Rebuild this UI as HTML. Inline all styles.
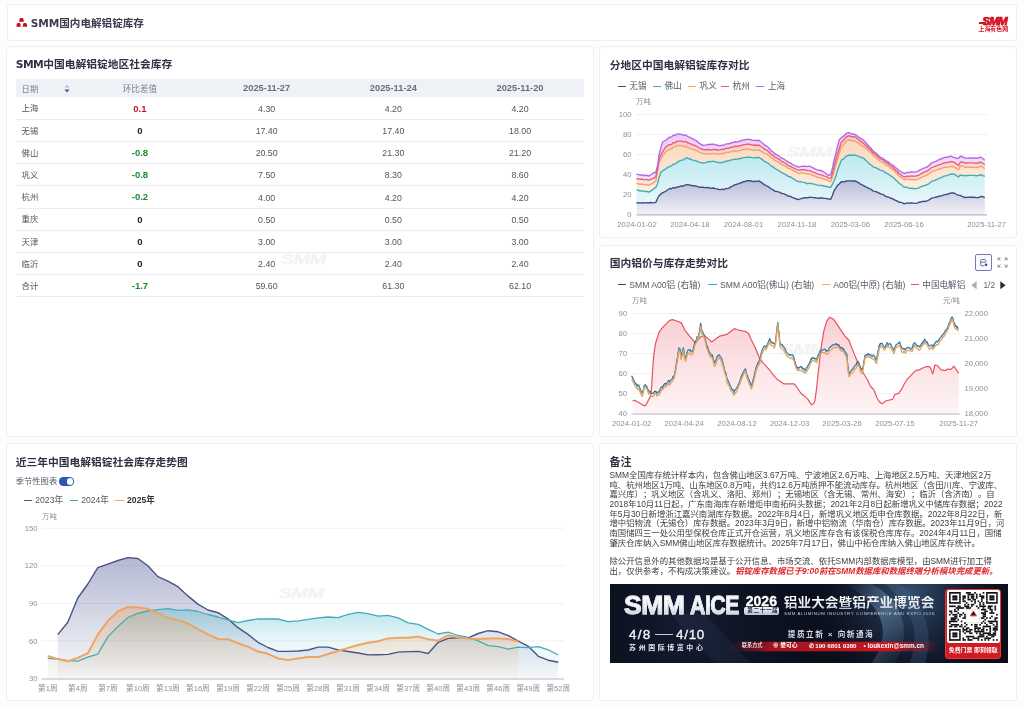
<!DOCTYPE html>
<html lang="zh-CN">
<head>
<meta charset="utf-8">
<title>SMM国内电解铝锭库存</title>
<style>
*{box-sizing:border-box;margin:0;padding:0}
html,body{width:1024px;height:708px;overflow:hidden}
body{position:relative;text-spacing-trim:space-all;background:#fdfdfd;font-family:"Liberation Sans","Noto Sans CJK SC",sans-serif;color:#333;}
#wrap{position:absolute;left:0;top:0;width:1024px;height:708px;background:#fdfdfd;filter:blur(0.35px)}
.abs{position:absolute}
.card{position:absolute;background:#fff;border:1px solid #eeeff2;border-radius:3px}
.t{position:absolute;white-space:nowrap;line-height:1}
.title{font-size:10.75px;font-weight:bold;color:#2f3242}
.ax{font-size:7.7px;color:#8b8f99}
.lg{font-size:8.6px;color:#555a66}
.wm{position:absolute;font:italic bold 14px "Liberation Sans",sans-serif;color:#000;opacity:.045;letter-spacing:-0.5px;transform:translate(-50%,-50%) scaleX(1.45);-webkit-text-stroke:0.6px #000}
.row{position:absolute;left:15.8px;width:568px;height:22.2px;border-bottom:1px solid #ebedf0}
.cell{position:absolute;top:0;height:100%;display:flex;align-items:center;justify-content:center;font-size:8.8px;color:#555;padding-bottom:1.5px}
.row .c2{padding-bottom:0}
.row .c3,.row .c4,.row .c5{padding-bottom:0;padding-top:1.1px}
.hdr .cell{padding-bottom:0;padding-top:0.4px}
.c1{left:0;width:60.8px;justify-content:flex-start;padding-left:5.8px;font-size:8.4px}
.c2{left:60.8px;width:126.7px}
.c3{left:187.5px;width:126.7px}
.c4{left:314.2px;width:126.7px}
.c5{left:440.9px;width:126.7px}
.up{color:#c8161e;font-weight:bold}
.zero{color:#222;font-weight:bold}
.dn{color:#1a8a2e;font-weight:bold}
.note{position:absolute;left:609.5px;font-size:8.4px;color:#3e3e3e;white-space:nowrap;line-height:9.7px;height:9.7px}
</style>
</head>
<body>
<div id="wrap">

<!-- Header -->
<div class="card" style="left:6.5px;top:4px;width:1010px;height:36.5px"></div>
<svg class="abs" style="left:15px;top:17px" width="14" height="11" viewBox="0 0 14 11">
  <path d="M4.1,4.7 L4.6,2.0 Q4.9,1.0 5.7,1.0 H7.3 Q8.1,1.0 8.4,2.0 L8.9,4.7 Z" fill="#c20f1f"/>
  <path d="M1.3,9.7 L1.8,6.9 Q2.1,5.9 2.9,5.9 H4.3 Q5.1,5.9 5.4,6.9 L5.9,9.7 Z" fill="#c20f1f"/>
  <path d="M7.6,9.7 L8.1,6.9 Q8.4,5.9 9.2,5.9 H10.6 Q11.4,5.9 11.7,6.9 L12.2,9.7 Z" fill="#c20f1f"/>
</svg>
<div class="t title" style="left:30.8px;top:17.5px;font-size:10.6px;font-weight:bold;color:#3a3d4f"><span style="font-family:'DejaVu Sans',sans-serif;letter-spacing:-0.1px">SMM</span>国内电解铝锭库存</div>
<div class="t" style="left:982.2px;top:13.5px;font:italic bold 11.6px 'Liberation Sans',sans-serif;color:#d4101f;-webkit-text-stroke:0.75px #d4101f;letter-spacing:-0.75px">SMM</div>
<div class="abs" style="left:978.8px;top:22.1px;width:6.5px;height:1.6px;background:#d4101f;transform:skewX(-20deg)"></div>
<div class="t" style="left:978.6px;top:26.5px;font-size:5.9px;font-weight:bold;color:#d0121f;letter-spacing:0px">上海有色网</div>

<!-- Table card -->
<div class="card" style="left:6px;top:45.5px;width:587.5px;height:391.5px"></div>
<div class="t title" style="left:15.8px;top:59px"><span style="font-family:'DejaVu Sans',sans-serif;letter-spacing:-0.6px">SMM</span>中国电解铝锭地区社会库存</div>
<div class="abs" style="left:15.8px;top:79px;width:568px;height:18px;background:#eef1f6"></div>
<div class="row hdr" style="top:79px;height:18px;border:none">
  <div class="cell c1" style="color:#7b7f8a;font-size:8.3px">日期</div>
  <svg class="abs" style="left:48px;top:5px" width="6" height="9" viewBox="0 0 6 9"><path d="M3 0.5L5.5 3.5H0.5z" fill="#b9c0cf"/><path d="M3 8.5L5.5 5.5H0.5z" fill="#3d5a92"/></svg>
  <div class="cell c2" style="color:#7b7f8a;font-size:8.6px">环比差值</div>
  <div class="cell c3" style="color:#6a6e7a;font-weight:bold;font-size:9.3px">2025-11-27</div>
  <div class="cell c4" style="color:#6a6e7a;font-weight:bold;font-size:9.3px">2025-11-24</div>
  <div class="cell c5" style="color:#6a6e7a;font-weight:bold;font-size:9.3px">2025-11-20</div>
</div>
<div class="row" style="top:97.6px"><div class="cell c1" style="color:#555;font-size:8.4px">上海</div><div class="cell c2 up" style="font-size:9.5px">0.1</div><div class="cell c3">4.30</div><div class="cell c4">4.20</div><div class="cell c5">4.20</div></div>
<div class="row" style="top:119.8px"><div class="cell c1" style="color:#555;font-size:8.4px">无锡</div><div class="cell c2 zero" style="font-size:9.5px">0</div><div class="cell c3">17.40</div><div class="cell c4">17.40</div><div class="cell c5">18.00</div></div>
<div class="row" style="top:142.0px"><div class="cell c1" style="color:#555;font-size:8.4px">佛山</div><div class="cell c2 dn" style="font-size:9.5px">-0.8</div><div class="cell c3">20.50</div><div class="cell c4">21.30</div><div class="cell c5">21.20</div></div>
<div class="row" style="top:164.2px"><div class="cell c1" style="color:#555;font-size:8.4px">巩义</div><div class="cell c2 dn" style="font-size:9.5px">-0.8</div><div class="cell c3">7.50</div><div class="cell c4">8.30</div><div class="cell c5">8.60</div></div>
<div class="row" style="top:186.4px"><div class="cell c1" style="color:#555;font-size:8.4px">杭州</div><div class="cell c2 dn" style="font-size:9.5px">-0.2</div><div class="cell c3">4.00</div><div class="cell c4">4.20</div><div class="cell c5">4.20</div></div>
<div class="row" style="top:208.6px"><div class="cell c1" style="color:#555;font-size:8.4px">重庆</div><div class="cell c2 zero" style="font-size:9.5px">0</div><div class="cell c3">0.50</div><div class="cell c4">0.50</div><div class="cell c5">0.50</div></div>
<div class="row" style="top:230.8px"><div class="cell c1" style="color:#555;font-size:8.4px">天津</div><div class="cell c2 zero" style="font-size:9.5px">0</div><div class="cell c3">3.00</div><div class="cell c4">3.00</div><div class="cell c5">3.00</div></div>
<div class="row" style="top:253.0px"><div class="cell c1" style="color:#555;font-size:8.4px">临沂</div><div class="cell c2 zero" style="font-size:9.5px">0</div><div class="cell c3">2.40</div><div class="cell c4">2.40</div><div class="cell c5">2.40</div></div>
<div class="row" style="top:275.2px"><div class="cell c1" style="color:#555;font-size:8.4px">合计</div><div class="cell c2 dn" style="font-size:9.5px">-1.7</div><div class="cell c3">59.60</div><div class="cell c4">61.30</div><div class="cell c5">62.10</div></div>
<div class="wm" style="left:302.5px;top:259.2px">SMM</div>

<!-- Chart1 card -->
<div class="card" style="left:599px;top:45.5px;width:418px;height:192px"></div>
<div class="t title" style="left:609.8px;top:59.5px">分地区中国电解铝锭库存对比</div>
<div class="abs" style="left:617.6px;top:85.5px;width:8.2px;height:1.3px;background:#3d4a82"></div>
<div class="t lg" style="left:629.3px;top:81.8px">无锡</div>
<div class="abs" style="left:652.7px;top:85.5px;width:8.2px;height:1.3px;background:#3fb0b8"></div>
<div class="t lg" style="left:664.4px;top:81.8px">佛山</div>
<div class="abs" style="left:687.9px;top:85.5px;width:8.2px;height:1.3px;background:#f2a35e"></div>
<div class="t lg" style="left:699.6px;top:81.8px">巩义</div>
<div class="abs" style="left:721px;top:85.5px;width:8.2px;height:1.3px;background:#eb5b6e"></div>
<div class="t lg" style="left:732.7px;top:81.8px">杭州</div>
<div class="abs" style="left:756.3px;top:85.5px;width:8.2px;height:1.3px;background:#a864f0"></div>
<div class="t lg" style="left:768.0px;top:81.8px">上海</div>
<div class="t ax" style="left:636px;top:98.3px;font-size:7.4px">万吨</div>
<div class="t ax" style="left:631.5px;top:210.9px;transform:translateX(-100%);">0</div>
<div class="t ax" style="left:631.5px;top:190.9px;transform:translateX(-100%);">20</div>
<div class="t ax" style="left:631.5px;top:170.9px;transform:translateX(-100%);">40</div>
<div class="t ax" style="left:631.5px;top:150.9px;transform:translateX(-100%);">60</div>
<div class="t ax" style="left:631.5px;top:130.9px;transform:translateX(-100%);">80</div>
<div class="t ax" style="left:631.5px;top:110.9px;transform:translateX(-100%);">100</div>
<div class="t ax" style="left:637.0px;top:220.8px;transform:translateX(-50%);">2024-01-02</div>
<div class="t ax" style="left:689.8px;top:220.8px;transform:translateX(-50%);">2024-04-18</div>
<div class="t ax" style="left:743.5px;top:220.8px;transform:translateX(-50%);">2024-08-01</div>
<div class="t ax" style="left:797.0px;top:220.8px;transform:translateX(-50%);">2024-11-18</div>
<div class="t ax" style="left:850.3px;top:220.8px;transform:translateX(-50%);">2025-03-06</div>
<div class="t ax" style="left:904.0px;top:220.8px;transform:translateX(-50%);">2025-06-16</div>
<div class="t ax" style="left:986.7px;top:220.8px;transform:translateX(-50%);">2025-11-27</div>
<div class="wm" style="left:809px;top:152px">SMM</div>
<svg class="abs" style="left:0;top:0" width="1024" height="708" viewBox="0 0 1024 708">
<defs>
<linearGradient id="g1navy" x1="0" y1="0" x2="0" y2="1"><stop offset="0" stop-color="#b9bdd9"/><stop offset="1" stop-color="#f1f2f7"/></linearGradient>
<linearGradient id="g1teal" x1="0" y1="0" x2="0" y2="1"><stop offset="0" stop-color="#bde9f0"/><stop offset="1" stop-color="#e8f7fa"/></linearGradient>
<linearGradient id="g1orange" x1="0" y1="0" x2="0" y2="1"><stop offset="0" stop-color="#fbd8bc"/><stop offset="1" stop-color="#fdeee2"/></linearGradient>
<linearGradient id="g1red" x1="0" y1="0" x2="0" y2="1"><stop offset="0" stop-color="#f8cdd4"/><stop offset="1" stop-color="#fbe3e6"/></linearGradient>
<linearGradient id="g1purple" x1="0" y1="0" x2="0" y2="1"><stop offset="0" stop-color="#f0cbf6"/><stop offset="1" stop-color="#f7e3fa"/></linearGradient>
</defs>
<line x1="636.5" y1="194.5" x2="987" y2="194.5" stroke="#f0f1f4" stroke-width="1"/>
<line x1="636.5" y1="174.5" x2="987" y2="174.5" stroke="#f0f1f4" stroke-width="1"/>
<line x1="636.5" y1="154.5" x2="987" y2="154.5" stroke="#f0f1f4" stroke-width="1"/>
<line x1="636.5" y1="134.5" x2="987" y2="134.5" stroke="#f0f1f4" stroke-width="1"/>
<line x1="636.5" y1="114.5" x2="987" y2="114.5" stroke="#f0f1f4" stroke-width="1"/>
<path d="M636.5,202.8 L638.2,202.7 L640,203.2 L641.8,202.6 L643.5,203 L645.2,202.9 L647,202.6 L648.8,203 L650.5,202.5 L652.2,202.9 L654,202.6 L655.8,202.6 L657.5,198.5 L659.2,195.7 L661,193.8 L662.8,192.7 L664.5,191.9 L666.2,191 L668,189.5 L669.8,188.5 L671.5,188.8 L673.2,187.5 L675,188.1 L676.8,187.2 L678.5,186.8 L680.2,186.3 L682,186 L683.8,186 L685.5,184.9 L687.2,184.8 L689,185 L690.8,185.2 L692.5,185.8 L694.2,185.7 L696,186.1 L697.8,186.7 L699.5,187.4 L701.2,187.2 L703,187.2 L704.8,187.6 L706.5,187.6 L708.2,187.5 L710,188.1 L711.8,188.2 L713.5,188 L715.2,188.6 L717,188.9 L718.8,189.5 L720.5,189.6 L722.2,189.1 L724,189.6 L725.8,188.5 L727.5,188.6 L729.2,188.1 L731,186.6 L732.8,186.1 L734.5,184.8 L736.2,184.5 L738,183.9 L739.8,183.1 L741.5,182.8 L743.2,181.7 L745,181.5 L746.8,180.8 L748.5,180.8 L750.2,180.8 L752,181.2 L753.8,181.5 L755.5,181.1 L757.2,181.4 L759,180.9 L760.8,182.1 L762.5,183.2 L764.2,184.6 L766,185.6 L767.8,186.3 L769.5,187.6 L771.2,189.1 L773,189.6 L774.8,191.2 L776.5,191.4 L778.2,191.9 L780,192.4 L781.8,193.6 L783.5,193.6 L785.2,194.4 L787,195.3 L788.8,196.4 L790.5,196.3 L792.2,197.3 L794,197.9 L795.8,198.8 L797.5,199.2 L799.2,199.5 L801,198.5 L802.8,198.2 L804.5,197.7 L806.2,197.8 L808,197.9 L809.8,197.2 L811.5,197.4 L813.2,197.6 L815,197.7 L816.8,198.1 L818.5,198.3 L820.2,198 L822,197.8 L823.8,198.4 L825.5,198.4 L827.2,198.7 L829,199.2 L830.8,199.1 L832.5,195.2 L834.2,190.3 L836,187.8 L837.8,185 L839.5,183.7 L841.2,181.7 L843,181.7 L844.8,181.5 L846.5,181 L848.2,180.9 L850,180.7 L851.8,181.3 L853.5,180.9 L855.2,181 L857,181.9 L858.8,182.9 L860.5,184.1 L862.2,184.9 L864,185.8 L865.8,186.8 L867.5,187.6 L869.2,188.7 L871,189.2 L872.8,190.8 L874.5,191.4 L876.2,191.7 L878,192.6 L879.8,193.5 L881.5,194.1 L883.2,194.5 L885,195.9 L886.8,196.8 L888.5,197.1 L890.2,198 L892,198.5 L893.8,199.4 L895.5,200.4 L897.2,201 L899,202.2 L900.8,202.3 L902.5,202.8 L904.2,203.8 L906,203.3 L907.8,202.9 L909.5,203.3 L911.2,202.8 L913,203.1 L914.8,203.4 L916.5,203.1 L918.2,202.7 L920,202 L921.8,201.8 L923.5,201.2 L925.2,201.5 L927,200.9 L928.8,200.2 L930.5,198.9 L932.2,197.9 L934,197.6 L935.8,197.1 L937.5,196.7 L939.2,196.3 L941,195.9 L942.8,195.5 L944.5,194.6 L946.2,194.5 L948,194 L949.8,193.3 L951.5,192.9 L953.2,193 L955,193.5 L956.8,194.5 L958.5,195.4 L960.2,195.4 L962,196.4 L963.8,197 L965.5,197.5 L967.2,197.4 L969,197.3 L970.8,197.3 L972.5,197.3 L974.2,197.3 L976,197.6 L977.8,197.6 L979.5,197.2 L981.2,196.4 L983,196.8 L984.8,197.7 L984.8,214.5 L636.5,214.5Z" fill="url(#g1navy)"/>
<path d="M636.5,190.1 L638.2,190.2 L640,191 L641.8,190.7 L643.5,191.4 L645.2,191.5 L647,191.5 L648.8,192.2 L650.5,191.1 L652.2,190.2 L654,188.6 L655.8,187.4 L657.5,184 L659.2,176.9 L661,172.1 L662.8,170.7 L664.5,169.6 L666.2,168.6 L668,167.3 L669.8,166.3 L671.5,166 L673.2,164.2 L675,164.1 L676.8,162.7 L678.5,161.6 L680.2,160.7 L682,160.1 L683.8,159.7 L685.5,158.2 L687.2,158 L689,158.8 L690.8,159.2 L692.5,160.1 L694.2,160.4 L696,160.9 L697.8,161.5 L699.5,162.4 L701.2,162.6 L703,163 L704.8,162.9 L706.5,162.3 L708.2,161.7 L710,161.7 L711.8,161.4 L713.5,161.2 L715.2,161.8 L717,162.1 L718.8,162.7 L720.5,162.8 L722.2,162.2 L724,162.4 L725.8,161.1 L727.5,161 L729.2,160.9 L731,159.9 L732.8,159.9 L734.5,159.1 L736.2,159.3 L738,159.1 L739.8,158.5 L741.5,158.5 L743.2,157.6 L745,157.6 L746.8,157.1 L748.5,157.2 L750.2,157.2 L752,157.7 L753.8,157.9 L755.5,157.5 L757.2,157.8 L759,157.3 L760.8,158.7 L762.5,159.7 L764.2,161.2 L766,162.1 L767.8,162.9 L769.5,164.4 L771.2,166.1 L773,166.8 L774.8,168.6 L776.5,169.3 L778.2,170.3 L780,171.3 L781.8,173 L783.5,173.3 L785.2,174.3 L787,175.4 L788.8,176.7 L790.5,176.8 L792.2,178.1 L794,179.1 L795.8,180.3 L797.5,181.1 L799.2,181.9 L801,181.6 L802.8,182.1 L804.5,182.4 L806.2,183.3 L808,183.7 L809.8,183.2 L811.5,183.6 L813.2,184 L815,184.3 L816.8,184.9 L818.5,185.4 L820.2,185.4 L822,185.5 L823.8,186.2 L825.5,186.3 L827.2,186.7 L829,187.3 L830.8,187.2 L832.5,184.2 L834.2,180.5 L836,175.5 L837.8,169.6 L839.5,165.2 L841.2,160.4 L843,159.2 L844.8,157.8 L846.5,156 L848.2,155.3 L850,155 L851.8,155.5 L853.5,155 L855.2,155 L857,155.7 L858.8,156.3 L860.5,157.2 L862.2,157.6 L864,158.4 L865.8,160.3 L867.5,161.9 L869.2,163.9 L871,164.9 L872.8,166.6 L874.5,167.3 L876.2,167.8 L878,168.8 L879.8,169.9 L881.5,170.5 L883.2,170.9 L885,172.3 L886.8,173.3 L888.5,174.2 L890.2,175.6 L892,176.6 L893.8,178 L895.5,179.7 L897.2,181.2 L899,183.4 L900.8,184.3 L902.5,185.7 L904.2,187.2 L906,187.3 L907.8,187.5 L909.5,188.4 L911.2,188.2 L913,188.5 L914.8,188.8 L916.5,188.5 L918.2,188.1 L920,187.1 L921.8,186.5 L923.5,185.6 L925.2,185.5 L927,184.6 L928.8,183.8 L930.5,182.3 L932.2,181.2 L934,180.7 L935.8,180 L937.5,179.1 L939.2,178.4 L941,177.7 L942.8,176.9 L944.5,175.9 L946.2,175.7 L948,175.2 L949.8,174.4 L951.5,174 L953.2,174 L955,174.7 L956.8,175.9 L958.5,176.9 L960.2,175.1 L962,175.2 L963.8,175.6 L965.5,175.8 L967.2,175.5 L969,175.4 L970.8,175.4 L972.5,175.4 L974.2,175.4 L976,175.7 L977.8,175.6 L979.5,175.2 L981.2,174.8 L983,175.6 L984.8,176.3 L984.8,197.7 L983,196.8 L981.2,196.4 L979.5,197.2 L977.8,197.6 L976,197.6 L974.2,197.3 L972.5,197.3 L970.8,197.3 L969,197.3 L967.2,197.4 L965.5,197.5 L963.8,197 L962,196.4 L960.2,195.4 L958.5,195.4 L956.8,194.5 L955,193.5 L953.2,193 L951.5,192.9 L949.8,193.3 L948,194 L946.2,194.5 L944.5,194.6 L942.8,195.5 L941,195.9 L939.2,196.3 L937.5,196.7 L935.8,197.1 L934,197.6 L932.2,197.9 L930.5,198.9 L928.8,200.2 L927,200.9 L925.2,201.5 L923.5,201.2 L921.8,201.8 L920,202 L918.2,202.7 L916.5,203.1 L914.8,203.4 L913,203.1 L911.2,202.8 L909.5,203.3 L907.8,202.9 L906,203.3 L904.2,203.8 L902.5,202.8 L900.8,202.3 L899,202.2 L897.2,201 L895.5,200.4 L893.8,199.4 L892,198.5 L890.2,198 L888.5,197.1 L886.8,196.8 L885,195.9 L883.2,194.5 L881.5,194.1 L879.8,193.5 L878,192.6 L876.2,191.7 L874.5,191.4 L872.8,190.8 L871,189.2 L869.2,188.7 L867.5,187.6 L865.8,186.8 L864,185.8 L862.2,184.9 L860.5,184.1 L858.8,182.9 L857,181.9 L855.2,181 L853.5,180.9 L851.8,181.3 L850,180.7 L848.2,180.9 L846.5,181 L844.8,181.5 L843,181.7 L841.2,181.7 L839.5,183.7 L837.8,185 L836,187.8 L834.2,190.3 L832.5,195.2 L830.8,199.1 L829,199.2 L827.2,198.7 L825.5,198.4 L823.8,198.4 L822,197.8 L820.2,198 L818.5,198.3 L816.8,198.1 L815,197.7 L813.2,197.6 L811.5,197.4 L809.8,197.2 L808,197.9 L806.2,197.8 L804.5,197.7 L802.8,198.2 L801,198.5 L799.2,199.5 L797.5,199.2 L795.8,198.8 L794,197.9 L792.2,197.3 L790.5,196.3 L788.8,196.4 L787,195.3 L785.2,194.4 L783.5,193.6 L781.8,193.6 L780,192.4 L778.2,191.9 L776.5,191.4 L774.8,191.2 L773,189.6 L771.2,189.1 L769.5,187.6 L767.8,186.3 L766,185.6 L764.2,184.6 L762.5,183.2 L760.8,182.1 L759,180.9 L757.2,181.4 L755.5,181.1 L753.8,181.5 L752,181.2 L750.2,180.8 L748.5,180.8 L746.8,180.8 L745,181.5 L743.2,181.7 L741.5,182.8 L739.8,183.1 L738,183.9 L736.2,184.5 L734.5,184.8 L732.8,186.1 L731,186.6 L729.2,188.1 L727.5,188.6 L725.8,188.5 L724,189.6 L722.2,189.1 L720.5,189.6 L718.8,189.5 L717,188.9 L715.2,188.6 L713.5,188 L711.8,188.2 L710,188.1 L708.2,187.5 L706.5,187.6 L704.8,187.6 L703,187.2 L701.2,187.2 L699.5,187.4 L697.8,186.7 L696,186.1 L694.2,185.7 L692.5,185.8 L690.8,185.2 L689,185 L687.2,184.8 L685.5,184.9 L683.8,186 L682,186 L680.2,186.3 L678.5,186.8 L676.8,187.2 L675,188.1 L673.2,187.5 L671.5,188.8 L669.8,188.5 L668,189.5 L666.2,191 L664.5,191.9 L662.8,192.7 L661,193.8 L659.2,195.7 L657.5,198.5 L655.8,202.6 L654,202.6 L652.2,202.9 L650.5,202.5 L648.8,203 L647,202.6 L645.2,202.9 L643.5,203 L641.8,202.6 L640,203.2 L638.2,202.7 L636.5,202.8Z" fill="url(#g1teal)"/>
<path d="M636.5,183.6 L638.2,183.7 L640,184.4 L641.8,184 L643.5,184.7 L645.2,184.7 L647,184.7 L648.8,185.3 L650.5,184.3 L652.2,183.6 L654,182.2 L655.8,181.1 L657.5,172.2 L659.2,162.1 L661,158.6 L662.8,155.8 L664.5,153.4 L666.2,151.5 L668,150.2 L669.8,149.2 L671.5,148.9 L673.2,147.1 L675,147 L676.8,145.6 L678.5,145.4 L680.2,145.5 L682,145.9 L683.8,146.6 L685.5,146.2 L687.2,147.3 L689,148.1 L690.8,148.5 L692.5,149.4 L694.2,149.7 L696,150.4 L697.8,151.2 L699.5,152.4 L701.2,152.9 L703,153.5 L704.8,153.8 L706.5,153.7 L708.2,153.5 L710,154 L711.8,153.9 L713.5,153.4 L715.2,153.8 L717,153.7 L718.8,154.1 L720.5,153.9 L722.2,153.3 L724,153.6 L725.8,152.4 L727.5,152.4 L729.2,152.4 L731,151.5 L732.8,151.5 L734.5,150.7 L736.2,151.1 L738,150.8 L739.8,150.3 L741.5,150.3 L743.2,149.4 L745,149.5 L746.8,149 L748.5,149.2 L750.2,149.3 L752,149.9 L753.8,150.2 L755.5,149.9 L757.2,150.4 L759,150 L760.8,151.2 L762.5,152 L764.2,153.2 L766,153.9 L767.8,154.7 L769.5,156.2 L771.2,157.9 L773,158.7 L774.8,160.5 L776.5,161.2 L778.2,162.2 L780,163.2 L781.8,164.9 L783.5,165.2 L785.2,166.2 L787,167.3 L788.8,168.6 L790.5,168.7 L792.2,170 L794,170.9 L795.8,172.1 L797.5,172.9 L799.2,173.6 L801,173 L802.8,173.1 L804.5,173.1 L806.2,173.6 L808,174.1 L809.8,174 L811.5,174.8 L813.2,175.5 L815,176.2 L816.8,177 L818.5,177.6 L820.2,177.8 L822,178.1 L823.8,179 L825.5,179.5 L827.2,180.2 L829,181.2 L830.8,181.5 L832.5,176.9 L834.2,171 L836,164.9 L837.8,158.2 L839.5,152.9 L841.2,147.2 L843,145.3 L844.8,143.3 L846.5,140.9 L848.2,140 L850,140 L851.8,140.9 L853.5,140.7 L855.2,141.1 L857,142.3 L858.8,143.4 L860.5,144.8 L862.2,145.8 L864,146.9 L865.8,148.4 L867.5,149.8 L869.2,151.4 L871,152.6 L872.8,155 L874.5,156.4 L876.2,157.5 L878,159.3 L879.8,161 L881.5,161.9 L883.2,162.5 L885,164.1 L886.8,165.3 L888.5,166.3 L890.2,167.9 L892,169 L893.8,170.6 L895.5,172.4 L897.2,173.9 L899,176.1 L900.8,177 L902.5,178.4 L904.2,179.5 L906,179.3 L907.8,179.1 L909.5,179.6 L911.2,179.2 L913,179.5 L914.8,179.8 L916.5,179.5 L918.2,179.1 L920,178 L921.8,177.3 L923.5,176.2 L925.2,176 L927,174.9 L928.8,174.1 L930.5,172.6 L932.2,171.4 L934,170.9 L935.8,170.3 L937.5,169.6 L939.2,169 L941,168.5 L942.8,167.9 L944.5,167.2 L946.2,167.4 L948,167.1 L949.8,166.6 L951.5,166.4 L953.2,166.7 L955,167.4 L956.8,168.6 L958.5,169.6 L960.2,166.3 L962,165.9 L963.8,166.6 L965.5,167.3 L967.2,167.4 L969,167.3 L970.8,167.3 L972.5,167.3 L974.2,167.3 L976,167.6 L977.8,167.3 L979.5,166.6 L981.2,166.3 L983,167.5 L984.8,168.7 L984.8,176.3 L983,175.6 L981.2,174.8 L979.5,175.2 L977.8,175.6 L976,175.7 L974.2,175.4 L972.5,175.4 L970.8,175.4 L969,175.4 L967.2,175.5 L965.5,175.8 L963.8,175.6 L962,175.2 L960.2,175.1 L958.5,176.9 L956.8,175.9 L955,174.7 L953.2,174 L951.5,174 L949.8,174.4 L948,175.2 L946.2,175.7 L944.5,175.9 L942.8,176.9 L941,177.7 L939.2,178.4 L937.5,179.1 L935.8,180 L934,180.7 L932.2,181.2 L930.5,182.3 L928.8,183.8 L927,184.6 L925.2,185.5 L923.5,185.6 L921.8,186.5 L920,187.1 L918.2,188.1 L916.5,188.5 L914.8,188.8 L913,188.5 L911.2,188.2 L909.5,188.4 L907.8,187.5 L906,187.3 L904.2,187.2 L902.5,185.7 L900.8,184.3 L899,183.4 L897.2,181.2 L895.5,179.7 L893.8,178 L892,176.6 L890.2,175.6 L888.5,174.2 L886.8,173.3 L885,172.3 L883.2,170.9 L881.5,170.5 L879.8,169.9 L878,168.8 L876.2,167.8 L874.5,167.3 L872.8,166.6 L871,164.9 L869.2,163.9 L867.5,161.9 L865.8,160.3 L864,158.4 L862.2,157.6 L860.5,157.2 L858.8,156.3 L857,155.7 L855.2,155 L853.5,155 L851.8,155.5 L850,155 L848.2,155.3 L846.5,156 L844.8,157.8 L843,159.2 L841.2,160.4 L839.5,165.2 L837.8,169.6 L836,175.5 L834.2,180.5 L832.5,184.2 L830.8,187.2 L829,187.3 L827.2,186.7 L825.5,186.3 L823.8,186.2 L822,185.5 L820.2,185.4 L818.5,185.4 L816.8,184.9 L815,184.3 L813.2,184 L811.5,183.6 L809.8,183.2 L808,183.7 L806.2,183.3 L804.5,182.4 L802.8,182.1 L801,181.6 L799.2,181.9 L797.5,181.1 L795.8,180.3 L794,179.1 L792.2,178.1 L790.5,176.8 L788.8,176.7 L787,175.4 L785.2,174.3 L783.5,173.3 L781.8,173 L780,171.3 L778.2,170.3 L776.5,169.3 L774.8,168.6 L773,166.8 L771.2,166.1 L769.5,164.4 L767.8,162.9 L766,162.1 L764.2,161.2 L762.5,159.7 L760.8,158.7 L759,157.3 L757.2,157.8 L755.5,157.5 L753.8,157.9 L752,157.7 L750.2,157.2 L748.5,157.2 L746.8,157.1 L745,157.6 L743.2,157.6 L741.5,158.5 L739.8,158.5 L738,159.1 L736.2,159.3 L734.5,159.1 L732.8,159.9 L731,159.9 L729.2,160.9 L727.5,161 L725.8,161.1 L724,162.4 L722.2,162.2 L720.5,162.8 L718.8,162.7 L717,162.1 L715.2,161.8 L713.5,161.2 L711.8,161.4 L710,161.7 L708.2,161.7 L706.5,162.3 L704.8,162.9 L703,163 L701.2,162.6 L699.5,162.4 L697.8,161.5 L696,160.9 L694.2,160.4 L692.5,160.1 L690.8,159.2 L689,158.8 L687.2,158 L685.5,158.2 L683.8,159.7 L682,160.1 L680.2,160.7 L678.5,161.6 L676.8,162.7 L675,164.1 L673.2,164.2 L671.5,166 L669.8,166.3 L668,167.3 L666.2,168.6 L664.5,169.6 L662.8,170.7 L661,172.1 L659.2,176.9 L657.5,184 L655.8,187.4 L654,188.6 L652.2,190.2 L650.5,191.1 L648.8,192.2 L647,191.5 L645.2,191.5 L643.5,191.4 L641.8,190.7 L640,191 L638.2,190.2 L636.5,190.1Z" fill="url(#g1orange)"/>
<path d="M636.5,178.7 L638.2,178.7 L640,179.4 L641.8,179 L643.5,179.6 L645.2,179.6 L647,179.5 L648.8,180.1 L650.5,179.3 L652.2,178.9 L654,177.8 L655.8,177 L657.5,168.5 L659.2,158.8 L661,154.8 L662.8,151.7 L664.5,148.8 L666.2,146.6 L668,145.5 L669.8,144.6 L671.5,144.4 L673.2,142.7 L675,142.8 L676.8,141.4 L678.5,141.1 L680.2,141.1 L682,141.3 L683.8,141.8 L685.5,141.3 L687.2,142.5 L689,143.4 L690.8,143.9 L692.5,144.9 L694.2,145.2 L696,146 L697.8,147 L699.5,148.2 L701.2,148.8 L703,149.5 L704.8,149.8 L706.5,149.7 L708.2,149.5 L710,150 L711.8,149.9 L713.5,149.4 L715.2,149.8 L717,149.7 L718.8,150.1 L720.5,149.9 L722.2,149.2 L724,149.5 L725.8,148.3 L727.5,148.2 L729.2,148.1 L731,147.2 L732.8,147.1 L734.5,146.3 L736.2,146.5 L738,146.2 L739.8,145.7 L741.5,145.6 L743.2,144.6 L745,144.6 L746.8,144.1 L748.5,144.3 L750.2,144.4 L752,145 L753.8,145.3 L755.5,145 L757.2,145.5 L759,145.1 L760.8,146.5 L762.5,147.5 L764.2,149 L766,149.9 L767.8,150.9 L769.5,152.5 L771.2,154.4 L773,155.3 L774.8,157.2 L776.5,157.9 L778.2,158.9 L780,159.9 L781.8,161.7 L783.5,162.1 L785.2,163.3 L787,164.5 L788.8,166.1 L790.5,166.3 L792.2,167.4 L794,168.2 L795.8,169.2 L797.5,169.8 L799.2,170.3 L801,169.7 L802.8,169.8 L804.5,169.6 L806.2,170.1 L808,170.6 L809.8,170.6 L811.5,171.4 L813.2,172.2 L815,172.9 L816.8,173.7 L818.5,174.4 L820.2,174.6 L822,174.9 L823.8,175.8 L825.5,176.4 L827.2,177.1 L829,178.1 L830.8,178.4 L832.5,173.2 L834.2,166.2 L836,160 L837.8,153.3 L839.5,148 L841.2,142.4 L843,140.8 L844.8,138.9 L846.5,136.8 L848.2,135.9 L850,136 L851.8,136.9 L853.5,136.6 L855.2,137 L857,138.3 L858.8,139.7 L860.5,141.3 L862.2,142.4 L864,143.8 L865.8,145.5 L867.5,147 L869.2,148.9 L871,150.1 L872.8,152.6 L874.5,153.9 L876.2,155.1 L878,156.8 L879.8,158.5 L881.5,159.4 L883.2,160 L885,161.6 L886.8,162.9 L888.5,163.9 L890.2,165.5 L892,166.6 L893.8,168.2 L895.5,170 L897.2,171.5 L899,173.7 L900.8,174.6 L902.5,176 L904.2,177 L906,176.5 L907.8,176.1 L909.5,176.5 L911.2,175.9 L913,176.1 L914.8,176.3 L916.5,175.9 L918.2,175.5 L920,174.3 L921.8,173.4 L923.5,172.3 L925.2,172 L927,170.8 L928.8,170 L930.5,168.5 L932.2,167.3 L934,166.8 L935.8,166.1 L937.5,165.4 L939.2,164.8 L941,164.2 L942.8,163.6 L944.5,162.7 L946.2,162.8 L948,162.4 L949.8,161.8 L951.5,161.6 L953.2,161.9 L955,162.8 L956.8,164.3 L958.5,165.5 L960.2,162.3 L962,161.9 L963.8,162.5 L965.5,163 L967.2,163 L969,162.9 L970.8,162.9 L972.5,162.9 L974.2,162.9 L976,163.2 L977.8,163 L979.5,162.5 L981.2,162.3 L983,163.5 L984.8,164.6 L984.8,168.7 L983,167.5 L981.2,166.3 L979.5,166.6 L977.8,167.3 L976,167.6 L974.2,167.3 L972.5,167.3 L970.8,167.3 L969,167.3 L967.2,167.4 L965.5,167.3 L963.8,166.6 L962,165.9 L960.2,166.3 L958.5,169.6 L956.8,168.6 L955,167.4 L953.2,166.7 L951.5,166.4 L949.8,166.6 L948,167.1 L946.2,167.4 L944.5,167.2 L942.8,167.9 L941,168.5 L939.2,169 L937.5,169.6 L935.8,170.3 L934,170.9 L932.2,171.4 L930.5,172.6 L928.8,174.1 L927,174.9 L925.2,176 L923.5,176.2 L921.8,177.3 L920,178 L918.2,179.1 L916.5,179.5 L914.8,179.8 L913,179.5 L911.2,179.2 L909.5,179.6 L907.8,179.1 L906,179.3 L904.2,179.5 L902.5,178.4 L900.8,177 L899,176.1 L897.2,173.9 L895.5,172.4 L893.8,170.6 L892,169 L890.2,167.9 L888.5,166.3 L886.8,165.3 L885,164.1 L883.2,162.5 L881.5,161.9 L879.8,161 L878,159.3 L876.2,157.5 L874.5,156.4 L872.8,155 L871,152.6 L869.2,151.4 L867.5,149.8 L865.8,148.4 L864,146.9 L862.2,145.8 L860.5,144.8 L858.8,143.4 L857,142.3 L855.2,141.1 L853.5,140.7 L851.8,140.9 L850,140 L848.2,140 L846.5,140.9 L844.8,143.3 L843,145.3 L841.2,147.2 L839.5,152.9 L837.8,158.2 L836,164.9 L834.2,171 L832.5,176.9 L830.8,181.5 L829,181.2 L827.2,180.2 L825.5,179.5 L823.8,179 L822,178.1 L820.2,177.8 L818.5,177.6 L816.8,177 L815,176.2 L813.2,175.5 L811.5,174.8 L809.8,174 L808,174.1 L806.2,173.6 L804.5,173.1 L802.8,173.1 L801,173 L799.2,173.6 L797.5,172.9 L795.8,172.1 L794,170.9 L792.2,170 L790.5,168.7 L788.8,168.6 L787,167.3 L785.2,166.2 L783.5,165.2 L781.8,164.9 L780,163.2 L778.2,162.2 L776.5,161.2 L774.8,160.5 L773,158.7 L771.2,157.9 L769.5,156.2 L767.8,154.7 L766,153.9 L764.2,153.2 L762.5,152 L760.8,151.2 L759,150 L757.2,150.4 L755.5,149.9 L753.8,150.2 L752,149.9 L750.2,149.3 L748.5,149.2 L746.8,149 L745,149.5 L743.2,149.4 L741.5,150.3 L739.8,150.3 L738,150.8 L736.2,151.1 L734.5,150.7 L732.8,151.5 L731,151.5 L729.2,152.4 L727.5,152.4 L725.8,152.4 L724,153.6 L722.2,153.3 L720.5,153.9 L718.8,154.1 L717,153.7 L715.2,153.8 L713.5,153.4 L711.8,153.9 L710,154 L708.2,153.5 L706.5,153.7 L704.8,153.8 L703,153.5 L701.2,152.9 L699.5,152.4 L697.8,151.2 L696,150.4 L694.2,149.7 L692.5,149.4 L690.8,148.5 L689,148.1 L687.2,147.3 L685.5,146.2 L683.8,146.6 L682,145.9 L680.2,145.5 L678.5,145.4 L676.8,145.6 L675,147 L673.2,147.1 L671.5,148.9 L669.8,149.2 L668,150.2 L666.2,151.5 L664.5,153.4 L662.8,155.8 L661,158.6 L659.2,162.1 L657.5,172.2 L655.8,181.1 L654,182.2 L652.2,183.6 L650.5,184.3 L648.8,185.3 L647,184.7 L645.2,184.7 L643.5,184.7 L641.8,184 L640,184.4 L638.2,183.7 L636.5,183.6Z" fill="url(#g1red)"/>
<path d="M636.5,174.3 L638.2,174.4 L640,175.1 L641.8,174.8 L643.5,175.5 L645.2,175.5 L647,175.4 L648.8,176.1 L650.5,175 L652.2,174.1 L654,172.4 L655.8,172.5 L657.5,166 L659.2,154.3 L661,147.4 L662.8,141.9 L664.5,141 L666.2,140 L668,138.3 L669.8,137.1 L671.5,137 L673.2,135.3 L675,135.4 L676.8,134.1 L678.5,134 L680.2,134.2 L682,134.6 L683.8,135.3 L685.5,134.9 L687.2,136.2 L689,137.1 L690.8,137.7 L692.5,138.9 L694.2,139.5 L696,140.6 L697.8,141.9 L699.5,143.5 L701.2,144.3 L703,145.4 L704.8,145.4 L706.5,144.9 L708.2,144.4 L710,144.5 L711.8,144.3 L713.5,144.1 L715.2,144.7 L717,145 L718.8,145.6 L720.5,145.7 L722.2,145.1 L724,145.3 L725.8,144 L727.5,143.9 L729.2,143.8 L731,142.8 L732.8,142.7 L734.5,141.8 L736.2,142 L738,141.6 L739.8,141 L741.5,140.9 L743.2,139.9 L745,139.8 L746.8,139.3 L748.5,139.4 L750.2,139.5 L752,140.1 L753.8,140.4 L755.5,140.2 L757.2,140.6 L759,140.3 L760.8,141.8 L762.5,143 L764.2,144.7 L766,145.8 L767.8,146.9 L769.5,148.8 L771.2,150.8 L773,151.9 L774.8,154 L776.5,154.7 L778.2,155.7 L780,156.7 L781.8,158.4 L783.5,158.8 L785.2,160 L787,161.1 L788.8,162.6 L790.5,162.9 L792.2,164.3 L794,165 L795.8,166 L797.5,166.7 L799.2,167.1 L801,166.4 L802.8,166.3 L804.5,166.1 L806.2,166.5 L808,166.4 L809.8,166.2 L811.5,167.1 L813.2,168 L815,168.9 L816.8,169.7 L818.5,170.3 L820.2,170.5 L822,170.8 L823.8,172 L825.5,173.2 L827.2,174.7 L829,175.3 L830.8,174.4 L832.5,168 L834.2,159.9 L836,152.8 L837.8,145.2 L839.5,139.4 L841.2,137.9 L843,136.6 L844.8,135.1 L846.5,133.3 L848.2,132.7 L850,133 L851.8,134 L853.5,134 L855.2,134.6 L857,135.8 L858.8,137 L860.5,138.4 L862.2,139.3 L864,140.6 L865.8,142.7 L867.5,144.5 L869.2,146.7 L871,148.1 L872.8,150.6 L874.5,152.1 L876.2,153.3 L878,155.1 L879.8,156.9 L881.5,157.8 L883.2,158.4 L885,160 L886.8,161.2 L888.5,162.1 L890.2,163.5 L892,164.5 L893.8,165.9 L895.5,167.5 L897.2,168.8 L899,170.8 L900.8,171.5 L902.5,172.7 L904.2,173.5 L906,172.9 L907.8,172.3 L909.5,172.6 L911.2,171.8 L913,172 L914.8,172.1 L916.5,171.6 L918.2,171.1 L920,169.9 L921.8,169.2 L923.5,168.1 L925.2,167.9 L927,166.8 L928.8,165.8 L930.5,164.1 L932.2,162.8 L934,162.1 L935.8,161.3 L937.5,160.4 L939.2,159.7 L941,159 L942.8,158.2 L944.5,157.3 L946.2,157.4 L948,157 L949.8,156.4 L951.5,156.3 L953.2,157.1 L955,157.6 L956.8,158.5 L958.5,158.4 L960.2,156.3 L962,156.5 L963.8,157.3 L965.5,158 L967.2,158.1 L969,158 L970.8,158 L972.5,158 L974.2,158 L976,158.3 L977.8,158 L979.5,157.4 L981.2,157.3 L983,158.8 L984.8,160.3 L984.8,164.6 L983,163.5 L981.2,162.3 L979.5,162.5 L977.8,163 L976,163.2 L974.2,162.9 L972.5,162.9 L970.8,162.9 L969,162.9 L967.2,163 L965.5,163 L963.8,162.5 L962,161.9 L960.2,162.3 L958.5,165.5 L956.8,164.3 L955,162.8 L953.2,161.9 L951.5,161.6 L949.8,161.8 L948,162.4 L946.2,162.8 L944.5,162.7 L942.8,163.6 L941,164.2 L939.2,164.8 L937.5,165.4 L935.8,166.1 L934,166.8 L932.2,167.3 L930.5,168.5 L928.8,170 L927,170.8 L925.2,172 L923.5,172.3 L921.8,173.4 L920,174.3 L918.2,175.5 L916.5,175.9 L914.8,176.3 L913,176.1 L911.2,175.9 L909.5,176.5 L907.8,176.1 L906,176.5 L904.2,177 L902.5,176 L900.8,174.6 L899,173.7 L897.2,171.5 L895.5,170 L893.8,168.2 L892,166.6 L890.2,165.5 L888.5,163.9 L886.8,162.9 L885,161.6 L883.2,160 L881.5,159.4 L879.8,158.5 L878,156.8 L876.2,155.1 L874.5,153.9 L872.8,152.6 L871,150.1 L869.2,148.9 L867.5,147 L865.8,145.5 L864,143.8 L862.2,142.4 L860.5,141.3 L858.8,139.7 L857,138.3 L855.2,137 L853.5,136.6 L851.8,136.9 L850,136 L848.2,135.9 L846.5,136.8 L844.8,138.9 L843,140.8 L841.2,142.4 L839.5,148 L837.8,153.3 L836,160 L834.2,166.2 L832.5,173.2 L830.8,178.4 L829,178.1 L827.2,177.1 L825.5,176.4 L823.8,175.8 L822,174.9 L820.2,174.6 L818.5,174.4 L816.8,173.7 L815,172.9 L813.2,172.2 L811.5,171.4 L809.8,170.6 L808,170.6 L806.2,170.1 L804.5,169.6 L802.8,169.8 L801,169.7 L799.2,170.3 L797.5,169.8 L795.8,169.2 L794,168.2 L792.2,167.4 L790.5,166.3 L788.8,166.1 L787,164.5 L785.2,163.3 L783.5,162.1 L781.8,161.7 L780,159.9 L778.2,158.9 L776.5,157.9 L774.8,157.2 L773,155.3 L771.2,154.4 L769.5,152.5 L767.8,150.9 L766,149.9 L764.2,149 L762.5,147.5 L760.8,146.5 L759,145.1 L757.2,145.5 L755.5,145 L753.8,145.3 L752,145 L750.2,144.4 L748.5,144.3 L746.8,144.1 L745,144.6 L743.2,144.6 L741.5,145.6 L739.8,145.7 L738,146.2 L736.2,146.5 L734.5,146.3 L732.8,147.1 L731,147.2 L729.2,148.1 L727.5,148.2 L725.8,148.3 L724,149.5 L722.2,149.2 L720.5,149.9 L718.8,150.1 L717,149.7 L715.2,149.8 L713.5,149.4 L711.8,149.9 L710,150 L708.2,149.5 L706.5,149.7 L704.8,149.8 L703,149.5 L701.2,148.8 L699.5,148.2 L697.8,147 L696,146 L694.2,145.2 L692.5,144.9 L690.8,143.9 L689,143.4 L687.2,142.5 L685.5,141.3 L683.8,141.8 L682,141.3 L680.2,141.1 L678.5,141.1 L676.8,141.4 L675,142.8 L673.2,142.7 L671.5,144.4 L669.8,144.6 L668,145.5 L666.2,146.6 L664.5,148.8 L662.8,151.7 L661,154.8 L659.2,158.8 L657.5,168.5 L655.8,177 L654,177.8 L652.2,178.9 L650.5,179.3 L648.8,180.1 L647,179.5 L645.2,179.6 L643.5,179.6 L641.8,179 L640,179.4 L638.2,178.7 L636.5,178.7Z" fill="url(#g1purple)"/>
<line x1="636.5" y1="214.8" x2="987" y2="214.8" stroke="#b4b7bf" stroke-width="1.2"/>
<path d="M636.5,202.8 L638.2,202.7 L640,203.2 L641.8,202.6 L643.5,203 L645.2,202.9 L647,202.6 L648.8,203 L650.5,202.5 L652.2,202.9 L654,202.6 L655.8,202.6 L657.5,198.5 L659.2,195.7 L661,193.8 L662.8,192.7 L664.5,191.9 L666.2,191 L668,189.5 L669.8,188.5 L671.5,188.8 L673.2,187.5 L675,188.1 L676.8,187.2 L678.5,186.8 L680.2,186.3 L682,186 L683.8,186 L685.5,184.9 L687.2,184.8 L689,185 L690.8,185.2 L692.5,185.8 L694.2,185.7 L696,186.1 L697.8,186.7 L699.5,187.4 L701.2,187.2 L703,187.2 L704.8,187.6 L706.5,187.6 L708.2,187.5 L710,188.1 L711.8,188.2 L713.5,188 L715.2,188.6 L717,188.9 L718.8,189.5 L720.5,189.6 L722.2,189.1 L724,189.6 L725.8,188.5 L727.5,188.6 L729.2,188.1 L731,186.6 L732.8,186.1 L734.5,184.8 L736.2,184.5 L738,183.9 L739.8,183.1 L741.5,182.8 L743.2,181.7 L745,181.5 L746.8,180.8 L748.5,180.8 L750.2,180.8 L752,181.2 L753.8,181.5 L755.5,181.1 L757.2,181.4 L759,180.9 L760.8,182.1 L762.5,183.2 L764.2,184.6 L766,185.6 L767.8,186.3 L769.5,187.6 L771.2,189.1 L773,189.6 L774.8,191.2 L776.5,191.4 L778.2,191.9 L780,192.4 L781.8,193.6 L783.5,193.6 L785.2,194.4 L787,195.3 L788.8,196.4 L790.5,196.3 L792.2,197.3 L794,197.9 L795.8,198.8 L797.5,199.2 L799.2,199.5 L801,198.5 L802.8,198.2 L804.5,197.7 L806.2,197.8 L808,197.9 L809.8,197.2 L811.5,197.4 L813.2,197.6 L815,197.7 L816.8,198.1 L818.5,198.3 L820.2,198 L822,197.8 L823.8,198.4 L825.5,198.4 L827.2,198.7 L829,199.2 L830.8,199.1 L832.5,195.2 L834.2,190.3 L836,187.8 L837.8,185 L839.5,183.7 L841.2,181.7 L843,181.7 L844.8,181.5 L846.5,181 L848.2,180.9 L850,180.7 L851.8,181.3 L853.5,180.9 L855.2,181 L857,181.9 L858.8,182.9 L860.5,184.1 L862.2,184.9 L864,185.8 L865.8,186.8 L867.5,187.6 L869.2,188.7 L871,189.2 L872.8,190.8 L874.5,191.4 L876.2,191.7 L878,192.6 L879.8,193.5 L881.5,194.1 L883.2,194.5 L885,195.9 L886.8,196.8 L888.5,197.1 L890.2,198 L892,198.5 L893.8,199.4 L895.5,200.4 L897.2,201 L899,202.2 L900.8,202.3 L902.5,202.8 L904.2,203.8 L906,203.3 L907.8,202.9 L909.5,203.3 L911.2,202.8 L913,203.1 L914.8,203.4 L916.5,203.1 L918.2,202.7 L920,202 L921.8,201.8 L923.5,201.2 L925.2,201.5 L927,200.9 L928.8,200.2 L930.5,198.9 L932.2,197.9 L934,197.6 L935.8,197.1 L937.5,196.7 L939.2,196.3 L941,195.9 L942.8,195.5 L944.5,194.6 L946.2,194.5 L948,194 L949.8,193.3 L951.5,192.9 L953.2,193 L955,193.5 L956.8,194.5 L958.5,195.4 L960.2,195.4 L962,196.4 L963.8,197 L965.5,197.5 L967.2,197.4 L969,197.3 L970.8,197.3 L972.5,197.3 L974.2,197.3 L976,197.6 L977.8,197.6 L979.5,197.2 L981.2,196.4 L983,196.8 L984.8,197.7" fill="none" stroke="#434d83" stroke-width="1.4" stroke-linejoin="round"/>
<path d="M636.5,190.1 L638.2,190.2 L640,191 L641.8,190.7 L643.5,191.4 L645.2,191.5 L647,191.5 L648.8,192.2 L650.5,191.1 L652.2,190.2 L654,188.6 L655.8,187.4 L657.5,184 L659.2,176.9 L661,172.1 L662.8,170.7 L664.5,169.6 L666.2,168.6 L668,167.3 L669.8,166.3 L671.5,166 L673.2,164.2 L675,164.1 L676.8,162.7 L678.5,161.6 L680.2,160.7 L682,160.1 L683.8,159.7 L685.5,158.2 L687.2,158 L689,158.8 L690.8,159.2 L692.5,160.1 L694.2,160.4 L696,160.9 L697.8,161.5 L699.5,162.4 L701.2,162.6 L703,163 L704.8,162.9 L706.5,162.3 L708.2,161.7 L710,161.7 L711.8,161.4 L713.5,161.2 L715.2,161.8 L717,162.1 L718.8,162.7 L720.5,162.8 L722.2,162.2 L724,162.4 L725.8,161.1 L727.5,161 L729.2,160.9 L731,159.9 L732.8,159.9 L734.5,159.1 L736.2,159.3 L738,159.1 L739.8,158.5 L741.5,158.5 L743.2,157.6 L745,157.6 L746.8,157.1 L748.5,157.2 L750.2,157.2 L752,157.7 L753.8,157.9 L755.5,157.5 L757.2,157.8 L759,157.3 L760.8,158.7 L762.5,159.7 L764.2,161.2 L766,162.1 L767.8,162.9 L769.5,164.4 L771.2,166.1 L773,166.8 L774.8,168.6 L776.5,169.3 L778.2,170.3 L780,171.3 L781.8,173 L783.5,173.3 L785.2,174.3 L787,175.4 L788.8,176.7 L790.5,176.8 L792.2,178.1 L794,179.1 L795.8,180.3 L797.5,181.1 L799.2,181.9 L801,181.6 L802.8,182.1 L804.5,182.4 L806.2,183.3 L808,183.7 L809.8,183.2 L811.5,183.6 L813.2,184 L815,184.3 L816.8,184.9 L818.5,185.4 L820.2,185.4 L822,185.5 L823.8,186.2 L825.5,186.3 L827.2,186.7 L829,187.3 L830.8,187.2 L832.5,184.2 L834.2,180.5 L836,175.5 L837.8,169.6 L839.5,165.2 L841.2,160.4 L843,159.2 L844.8,157.8 L846.5,156 L848.2,155.3 L850,155 L851.8,155.5 L853.5,155 L855.2,155 L857,155.7 L858.8,156.3 L860.5,157.2 L862.2,157.6 L864,158.4 L865.8,160.3 L867.5,161.9 L869.2,163.9 L871,164.9 L872.8,166.6 L874.5,167.3 L876.2,167.8 L878,168.8 L879.8,169.9 L881.5,170.5 L883.2,170.9 L885,172.3 L886.8,173.3 L888.5,174.2 L890.2,175.6 L892,176.6 L893.8,178 L895.5,179.7 L897.2,181.2 L899,183.4 L900.8,184.3 L902.5,185.7 L904.2,187.2 L906,187.3 L907.8,187.5 L909.5,188.4 L911.2,188.2 L913,188.5 L914.8,188.8 L916.5,188.5 L918.2,188.1 L920,187.1 L921.8,186.5 L923.5,185.6 L925.2,185.5 L927,184.6 L928.8,183.8 L930.5,182.3 L932.2,181.2 L934,180.7 L935.8,180 L937.5,179.1 L939.2,178.4 L941,177.7 L942.8,176.9 L944.5,175.9 L946.2,175.7 L948,175.2 L949.8,174.4 L951.5,174 L953.2,174 L955,174.7 L956.8,175.9 L958.5,176.9 L960.2,175.1 L962,175.2 L963.8,175.6 L965.5,175.8 L967.2,175.5 L969,175.4 L970.8,175.4 L972.5,175.4 L974.2,175.4 L976,175.7 L977.8,175.6 L979.5,175.2 L981.2,174.8 L983,175.6 L984.8,176.3" fill="none" stroke="#45aeb3" stroke-width="1.4" stroke-linejoin="round"/>
<path d="M636.5,183.6 L638.2,183.7 L640,184.4 L641.8,184 L643.5,184.7 L645.2,184.7 L647,184.7 L648.8,185.3 L650.5,184.3 L652.2,183.6 L654,182.2 L655.8,181.1 L657.5,172.2 L659.2,162.1 L661,158.6 L662.8,155.8 L664.5,153.4 L666.2,151.5 L668,150.2 L669.8,149.2 L671.5,148.9 L673.2,147.1 L675,147 L676.8,145.6 L678.5,145.4 L680.2,145.5 L682,145.9 L683.8,146.6 L685.5,146.2 L687.2,147.3 L689,148.1 L690.8,148.5 L692.5,149.4 L694.2,149.7 L696,150.4 L697.8,151.2 L699.5,152.4 L701.2,152.9 L703,153.5 L704.8,153.8 L706.5,153.7 L708.2,153.5 L710,154 L711.8,153.9 L713.5,153.4 L715.2,153.8 L717,153.7 L718.8,154.1 L720.5,153.9 L722.2,153.3 L724,153.6 L725.8,152.4 L727.5,152.4 L729.2,152.4 L731,151.5 L732.8,151.5 L734.5,150.7 L736.2,151.1 L738,150.8 L739.8,150.3 L741.5,150.3 L743.2,149.4 L745,149.5 L746.8,149 L748.5,149.2 L750.2,149.3 L752,149.9 L753.8,150.2 L755.5,149.9 L757.2,150.4 L759,150 L760.8,151.2 L762.5,152 L764.2,153.2 L766,153.9 L767.8,154.7 L769.5,156.2 L771.2,157.9 L773,158.7 L774.8,160.5 L776.5,161.2 L778.2,162.2 L780,163.2 L781.8,164.9 L783.5,165.2 L785.2,166.2 L787,167.3 L788.8,168.6 L790.5,168.7 L792.2,170 L794,170.9 L795.8,172.1 L797.5,172.9 L799.2,173.6 L801,173 L802.8,173.1 L804.5,173.1 L806.2,173.6 L808,174.1 L809.8,174 L811.5,174.8 L813.2,175.5 L815,176.2 L816.8,177 L818.5,177.6 L820.2,177.8 L822,178.1 L823.8,179 L825.5,179.5 L827.2,180.2 L829,181.2 L830.8,181.5 L832.5,176.9 L834.2,171 L836,164.9 L837.8,158.2 L839.5,152.9 L841.2,147.2 L843,145.3 L844.8,143.3 L846.5,140.9 L848.2,140 L850,140 L851.8,140.9 L853.5,140.7 L855.2,141.1 L857,142.3 L858.8,143.4 L860.5,144.8 L862.2,145.8 L864,146.9 L865.8,148.4 L867.5,149.8 L869.2,151.4 L871,152.6 L872.8,155 L874.5,156.4 L876.2,157.5 L878,159.3 L879.8,161 L881.5,161.9 L883.2,162.5 L885,164.1 L886.8,165.3 L888.5,166.3 L890.2,167.9 L892,169 L893.8,170.6 L895.5,172.4 L897.2,173.9 L899,176.1 L900.8,177 L902.5,178.4 L904.2,179.5 L906,179.3 L907.8,179.1 L909.5,179.6 L911.2,179.2 L913,179.5 L914.8,179.8 L916.5,179.5 L918.2,179.1 L920,178 L921.8,177.3 L923.5,176.2 L925.2,176 L927,174.9 L928.8,174.1 L930.5,172.6 L932.2,171.4 L934,170.9 L935.8,170.3 L937.5,169.6 L939.2,169 L941,168.5 L942.8,167.9 L944.5,167.2 L946.2,167.4 L948,167.1 L949.8,166.6 L951.5,166.4 L953.2,166.7 L955,167.4 L956.8,168.6 L958.5,169.6 L960.2,166.3 L962,165.9 L963.8,166.6 L965.5,167.3 L967.2,167.4 L969,167.3 L970.8,167.3 L972.5,167.3 L974.2,167.3 L976,167.6 L977.8,167.3 L979.5,166.6 L981.2,166.3 L983,167.5 L984.8,168.7" fill="none" stroke="#f0a466" stroke-width="1.4" stroke-linejoin="round"/>
<path d="M636.5,178.7 L638.2,178.7 L640,179.4 L641.8,179 L643.5,179.6 L645.2,179.6 L647,179.5 L648.8,180.1 L650.5,179.3 L652.2,178.9 L654,177.8 L655.8,177 L657.5,168.5 L659.2,158.8 L661,154.8 L662.8,151.7 L664.5,148.8 L666.2,146.6 L668,145.5 L669.8,144.6 L671.5,144.4 L673.2,142.7 L675,142.8 L676.8,141.4 L678.5,141.1 L680.2,141.1 L682,141.3 L683.8,141.8 L685.5,141.3 L687.2,142.5 L689,143.4 L690.8,143.9 L692.5,144.9 L694.2,145.2 L696,146 L697.8,147 L699.5,148.2 L701.2,148.8 L703,149.5 L704.8,149.8 L706.5,149.7 L708.2,149.5 L710,150 L711.8,149.9 L713.5,149.4 L715.2,149.8 L717,149.7 L718.8,150.1 L720.5,149.9 L722.2,149.2 L724,149.5 L725.8,148.3 L727.5,148.2 L729.2,148.1 L731,147.2 L732.8,147.1 L734.5,146.3 L736.2,146.5 L738,146.2 L739.8,145.7 L741.5,145.6 L743.2,144.6 L745,144.6 L746.8,144.1 L748.5,144.3 L750.2,144.4 L752,145 L753.8,145.3 L755.5,145 L757.2,145.5 L759,145.1 L760.8,146.5 L762.5,147.5 L764.2,149 L766,149.9 L767.8,150.9 L769.5,152.5 L771.2,154.4 L773,155.3 L774.8,157.2 L776.5,157.9 L778.2,158.9 L780,159.9 L781.8,161.7 L783.5,162.1 L785.2,163.3 L787,164.5 L788.8,166.1 L790.5,166.3 L792.2,167.4 L794,168.2 L795.8,169.2 L797.5,169.8 L799.2,170.3 L801,169.7 L802.8,169.8 L804.5,169.6 L806.2,170.1 L808,170.6 L809.8,170.6 L811.5,171.4 L813.2,172.2 L815,172.9 L816.8,173.7 L818.5,174.4 L820.2,174.6 L822,174.9 L823.8,175.8 L825.5,176.4 L827.2,177.1 L829,178.1 L830.8,178.4 L832.5,173.2 L834.2,166.2 L836,160 L837.8,153.3 L839.5,148 L841.2,142.4 L843,140.8 L844.8,138.9 L846.5,136.8 L848.2,135.9 L850,136 L851.8,136.9 L853.5,136.6 L855.2,137 L857,138.3 L858.8,139.7 L860.5,141.3 L862.2,142.4 L864,143.8 L865.8,145.5 L867.5,147 L869.2,148.9 L871,150.1 L872.8,152.6 L874.5,153.9 L876.2,155.1 L878,156.8 L879.8,158.5 L881.5,159.4 L883.2,160 L885,161.6 L886.8,162.9 L888.5,163.9 L890.2,165.5 L892,166.6 L893.8,168.2 L895.5,170 L897.2,171.5 L899,173.7 L900.8,174.6 L902.5,176 L904.2,177 L906,176.5 L907.8,176.1 L909.5,176.5 L911.2,175.9 L913,176.1 L914.8,176.3 L916.5,175.9 L918.2,175.5 L920,174.3 L921.8,173.4 L923.5,172.3 L925.2,172 L927,170.8 L928.8,170 L930.5,168.5 L932.2,167.3 L934,166.8 L935.8,166.1 L937.5,165.4 L939.2,164.8 L941,164.2 L942.8,163.6 L944.5,162.7 L946.2,162.8 L948,162.4 L949.8,161.8 L951.5,161.6 L953.2,161.9 L955,162.8 L956.8,164.3 L958.5,165.5 L960.2,162.3 L962,161.9 L963.8,162.5 L965.5,163 L967.2,163 L969,162.9 L970.8,162.9 L972.5,162.9 L974.2,162.9 L976,163.2 L977.8,163 L979.5,162.5 L981.2,162.3 L983,163.5 L984.8,164.6" fill="none" stroke="#e95f74" stroke-width="1.4" stroke-linejoin="round"/>
<path d="M636.5,174.3 L638.2,174.4 L640,175.1 L641.8,174.8 L643.5,175.5 L645.2,175.5 L647,175.4 L648.8,176.1 L650.5,175 L652.2,174.1 L654,172.4 L655.8,172.5 L657.5,166 L659.2,154.3 L661,147.4 L662.8,141.9 L664.5,141 L666.2,140 L668,138.3 L669.8,137.1 L671.5,137 L673.2,135.3 L675,135.4 L676.8,134.1 L678.5,134 L680.2,134.2 L682,134.6 L683.8,135.3 L685.5,134.9 L687.2,136.2 L689,137.1 L690.8,137.7 L692.5,138.9 L694.2,139.5 L696,140.6 L697.8,141.9 L699.5,143.5 L701.2,144.3 L703,145.4 L704.8,145.4 L706.5,144.9 L708.2,144.4 L710,144.5 L711.8,144.3 L713.5,144.1 L715.2,144.7 L717,145 L718.8,145.6 L720.5,145.7 L722.2,145.1 L724,145.3 L725.8,144 L727.5,143.9 L729.2,143.8 L731,142.8 L732.8,142.7 L734.5,141.8 L736.2,142 L738,141.6 L739.8,141 L741.5,140.9 L743.2,139.9 L745,139.8 L746.8,139.3 L748.5,139.4 L750.2,139.5 L752,140.1 L753.8,140.4 L755.5,140.2 L757.2,140.6 L759,140.3 L760.8,141.8 L762.5,143 L764.2,144.7 L766,145.8 L767.8,146.9 L769.5,148.8 L771.2,150.8 L773,151.9 L774.8,154 L776.5,154.7 L778.2,155.7 L780,156.7 L781.8,158.4 L783.5,158.8 L785.2,160 L787,161.1 L788.8,162.6 L790.5,162.9 L792.2,164.3 L794,165 L795.8,166 L797.5,166.7 L799.2,167.1 L801,166.4 L802.8,166.3 L804.5,166.1 L806.2,166.5 L808,166.4 L809.8,166.2 L811.5,167.1 L813.2,168 L815,168.9 L816.8,169.7 L818.5,170.3 L820.2,170.5 L822,170.8 L823.8,172 L825.5,173.2 L827.2,174.7 L829,175.3 L830.8,174.4 L832.5,168 L834.2,159.9 L836,152.8 L837.8,145.2 L839.5,139.4 L841.2,137.9 L843,136.6 L844.8,135.1 L846.5,133.3 L848.2,132.7 L850,133 L851.8,134 L853.5,134 L855.2,134.6 L857,135.8 L858.8,137 L860.5,138.4 L862.2,139.3 L864,140.6 L865.8,142.7 L867.5,144.5 L869.2,146.7 L871,148.1 L872.8,150.6 L874.5,152.1 L876.2,153.3 L878,155.1 L879.8,156.9 L881.5,157.8 L883.2,158.4 L885,160 L886.8,161.2 L888.5,162.1 L890.2,163.5 L892,164.5 L893.8,165.9 L895.5,167.5 L897.2,168.8 L899,170.8 L900.8,171.5 L902.5,172.7 L904.2,173.5 L906,172.9 L907.8,172.3 L909.5,172.6 L911.2,171.8 L913,172 L914.8,172.1 L916.5,171.6 L918.2,171.1 L920,169.9 L921.8,169.2 L923.5,168.1 L925.2,167.9 L927,166.8 L928.8,165.8 L930.5,164.1 L932.2,162.8 L934,162.1 L935.8,161.3 L937.5,160.4 L939.2,159.7 L941,159 L942.8,158.2 L944.5,157.3 L946.2,157.4 L948,157 L949.8,156.4 L951.5,156.3 L953.2,157.1 L955,157.6 L956.8,158.5 L958.5,158.4 L960.2,156.3 L962,156.5 L963.8,157.3 L965.5,158 L967.2,158.1 L969,158 L970.8,158 L972.5,158 L974.2,158 L976,158.3 L977.8,158 L979.5,157.4 L981.2,157.3 L983,158.8 L984.8,160.3" fill="none" stroke="#b06ae8" stroke-width="1.4" stroke-linejoin="round"/>
</svg>

<!-- Chart2 card -->
<div class="card" style="left:599px;top:244.5px;width:418px;height:192.5px"></div>
<div class="t title" style="left:609.8px;top:258px">国内铝价与库存走势对比</div>
<div class="abs" style="left:975px;top:254px;width:16.7px;height:16.7px;border:1px solid #7279bb;border-radius:2px;background:#fbfbfe"></div>
<svg class="abs" style="left:979.5px;top:259px" width="8" height="8" viewBox="0 0 8 8"><path d="M1.6 0.6h3.2a1 1 0 0 1 1 1v1.6M1.6 0.6a1 1 0 0 0-1 1v4.2a1 1 0 0 0 1 1h2.6M0.8 3.2h4.8" fill="none" stroke="#6b71b3" stroke-width="1"/><circle cx="6" cy="5.8" r="1.3" fill="#3e4690"/></svg>
<svg class="abs" style="left:997px;top:257px" width="11" height="11" viewBox="0 0 11 11" fill="none" stroke="#7a8090" stroke-width="0.9"><path d="M1 3.5V1h2.5M1 1l2.5 2.5"/><path d="M10 3.5V1H7.5M10 1L7.5 3.5"/><path d="M1 7.5V10h2.5M1 10l2.5-2.5"/><path d="M10 7.5V10H7.5M10 10L7.5 7.5"/></svg>
<div class="abs" style="left:617.6px;top:284.2px;width:8.2px;height:1.3px;background:#3b4a7e"></div>
<div class="t lg" style="left:629.3px;top:280.5px">SMM A00铝 (右轴)</div>
<div class="abs" style="left:708.4px;top:284.2px;width:8.2px;height:1.3px;background:#3aa9c9"></div>
<div class="t lg" style="left:720.1px;top:280.5px">SMM A00铝(佛山) (右轴)</div>
<div class="abs" style="left:821.5px;top:284.2px;width:8.2px;height:1.3px;background:#eaa65c"></div>
<div class="t lg" style="left:833.2px;top:280.5px">A00铝(中原) (右轴)</div>
<div class="abs" style="left:910.6px;top:284.2px;width:8.2px;height:1.3px;background:#e8505f"></div>
<div class="t lg" style="left:922.3px;top:280.5px">中国电解铝</div>
<svg class="abs" style="left:971px;top:281.2px" width="6" height="8.4" viewBox="0 0 6 8.4"><path d="M5.6 0.2V8.2L0.3 4.2z" fill="#a9adb6"/></svg>
<div class="t lg" style="left:983.5px;top:280.5px;font-size:8.3px;color:#5a5e68">1/2</div>
<svg class="abs" style="left:999.8px;top:281.2px" width="6" height="8.4" viewBox="0 0 6 8.4"><path d="M0.3 0.2V8.2L5.6 4.2z" fill="#252a36"/></svg>
<div class="t ax" style="left:632px;top:297px;font-size:7.4px">万吨</div>
<div class="t ax" style="left:943px;top:297px;font-size:7.4px">元/吨</div>
<div class="t ax" style="left:627.0px;top:309.8px;transform:translateX(-100%);">90</div>
<div class="t ax" style="left:627.0px;top:329.8px;transform:translateX(-100%);">80</div>
<div class="t ax" style="left:627.0px;top:349.8px;transform:translateX(-100%);">70</div>
<div class="t ax" style="left:627.0px;top:369.8px;transform:translateX(-100%);">60</div>
<div class="t ax" style="left:627.0px;top:389.8px;transform:translateX(-100%);">50</div>
<div class="t ax" style="left:627.0px;top:409.8px;transform:translateX(-100%);">40</div>
<div class="t ax" style="left:964.4px;top:310.2px;">22,000</div>
<div class="t ax" style="left:964.4px;top:335.2px;">21,000</div>
<div class="t ax" style="left:964.4px;top:360.2px;">20,000</div>
<div class="t ax" style="left:964.4px;top:385.2px;">19,000</div>
<div class="t ax" style="left:964.4px;top:410.2px;">18,000</div>
<div class="t ax" style="left:631.7px;top:420.3px;transform:translateX(-50%);">2024-01-02</div>
<div class="t ax" style="left:684.2px;top:420.3px;transform:translateX(-50%);">2024-04-24</div>
<div class="t ax" style="left:737.0px;top:420.3px;transform:translateX(-50%);">2024-08-12</div>
<div class="t ax" style="left:789.6px;top:420.3px;transform:translateX(-50%);">2024-12-03</div>
<div class="t ax" style="left:842.0px;top:420.3px;transform:translateX(-50%);">2025-03-26</div>
<div class="t ax" style="left:894.8px;top:420.3px;transform:translateX(-50%);">2025-07-15</div>
<div class="t ax" style="left:958.7px;top:420.3px;transform:translateX(-50%);">2025-11-27</div>
<div class="wm" style="left:803px;top:348.5px">SMM</div>
<svg class="abs" style="left:0;top:0" width="1024" height="708" viewBox="0 0 1024 708">
<defs><linearGradient id="g2r" x1="0" y1="315" x2="0" y2="414" gradientUnits="userSpaceOnUse"><stop offset="0" stop-color="#f9ced3"/><stop offset="1" stop-color="#fef5f6"/></linearGradient></defs>
<line x1="631.5" y1="313.5" x2="960" y2="313.5" stroke="#f0f1f4" stroke-width="1"/>
<line x1="631.5" y1="333.5" x2="960" y2="333.5" stroke="#f0f1f4" stroke-width="1"/>
<line x1="631.5" y1="353.5" x2="960" y2="353.5" stroke="#f0f1f4" stroke-width="1"/>
<line x1="631.5" y1="373.5" x2="960" y2="373.5" stroke="#f0f1f4" stroke-width="1"/>
<line x1="631.5" y1="393.5" x2="960" y2="393.5" stroke="#f0f1f4" stroke-width="1"/>
<path d="M632.7,401.1 L633.7,400.5 L634.7,400.2 L635.7,400.8 L636.7,401.4 L637.7,402 L638.7,402.5 L639.7,403.1 L640.7,403.7 L641.7,404.3 L642.7,405 L643.7,405.6 L644.7,405.6 L645.7,405.1 L646.7,403.5 L647.7,401.6 L648.7,399.6 L649.7,397.7 L650.7,395.9 L651.7,386 L652.7,369.3 L653.7,355.6 L654.7,348.9 L655.7,342.9 L656.7,339.7 L657.7,336.6 L658.7,333.4 L659.7,331 L660.7,329.9 L661.7,328.7 L662.7,327.5 L663.7,326.4 L664.7,325.3 L665.7,324.3 L666.7,323.3 L667.7,322.4 L668.7,321.4 L669.7,320.4 L670.7,320.1 L671.7,319.8 L672.7,319.6 L673.7,320 L674.7,320.4 L675.7,320.7 L676.7,321.1 L677.7,321.4 L678.7,321.8 L679.7,322.1 L680.7,322.5 L681.7,323.5 L682.7,325.6 L683.7,327.6 L684.7,329.7 L685.7,331.3 L686.7,332.5 L687.7,333.8 L688.7,335 L689.7,336.3 L690.7,337.4 L691.7,338.6 L692.7,339.8 L693.7,341 L694.7,342 L695.7,342.8 L696.7,341.6 L697.7,340.4 L698.7,339.2 L699.7,338 L700.7,337 L701.7,336.5 L702.7,336.1 L703.7,335.6 L704.7,335.7 L705.7,336.6 L706.7,337.5 L707.7,338.4 L708.7,339.3 L709.7,340.1 L710.7,341 L711.7,341.9 L712.7,341.3 L713.7,340.5 L714.7,339.8 L715.7,339 L716.7,338.3 L717.7,337.5 L718.7,336.7 L719.7,336.1 L720.7,335.9 L721.7,335.6 L722.7,335.4 L723.7,335.1 L724.7,334.9 L725.7,334.6 L726.7,334.4 L727.7,333.8 L728.7,333 L729.7,332.3 L730.7,331.6 L731.7,330.8 L732.7,330.1 L733.7,329.3 L734.7,328.6 L735.7,329 L736.7,329.3 L737.7,329.7 L738.7,330 L739.7,330.4 L740.7,330.6 L741.7,330.8 L742.7,331 L743.7,331.1 L744.7,331.3 L745.7,331.5 L746.7,332.2 L747.7,332.8 L748.7,333.6 L749.7,336 L750.7,338.4 L751.7,340.6 L752.7,342.6 L753.7,344.5 L754.7,346.5 L755.7,348.7 L756.7,351.2 L757.7,353.7 L758.7,356.2 L759.7,358.1 L760.7,359.6 L761.7,361.1 L762.7,362.6 L763.7,363.7 L764.7,364.7 L765.7,365.7 L766.7,366.8 L767.7,367.8 L768.7,368.8 L769.7,370.2 L770.7,371.5 L771.7,372.8 L772.7,374.2 L773.7,375.5 L774.7,376.7 L775.7,377.7 L776.7,378.7 L777.7,379.7 L778.7,380.5 L779.7,381.1 L780.7,381.8 L781.7,382.5 L782.7,383.1 L783.7,383.8 L784.7,383.9 L785.7,383.9 L786.7,383.9 L787.7,383.9 L788.7,383.9 L789.7,383.9 L790.7,383.9 L791.7,383.9 L792.7,383.9 L793.7,383.9 L794.7,384.3 L795.7,385.7 L796.7,387 L797.7,388.5 L798.7,390 L799.7,391.5 L800.7,393 L801.7,394 L802.7,394.8 L803.7,395.5 L804.7,396.2 L805.7,397.2 L806.7,398.2 L807.7,399.2 L808.7,400.7 L809.7,402.2 L810.7,403.7 L811.7,404.8 L812.7,404.1 L813.7,403.5 L814.7,401.2 L815.7,395.1 L816.7,387.5 L817.7,377.5 L818.7,368.2 L819.7,359.7 L820.7,351.1 L821.7,344 L822.7,337.9 L823.7,331.7 L824.7,327.9 L825.7,324.6 L826.7,321.3 L827.7,319.8 L828.7,318.4 L829.7,317.2 L830.7,317.7 L831.7,318.2 L832.7,318.7 L833.7,319.4 L834.7,320.9 L835.7,322.4 L836.7,323.9 L837.7,325.4 L838.7,326.9 L839.7,328.4 L840.7,329.9 L841.7,331.4 L842.7,332.9 L843.7,334.4 L844.7,335.9 L845.7,337 L846.7,338 L847.7,339 L848.7,340 L849.7,342.5 L850.7,345.1 L851.7,347.6 L852.7,350.1 L853.7,352.6 L854.7,355.1 L855.7,357.6 L856.7,359.9 L857.7,361.9 L858.7,363.8 L859.7,365.8 L860.7,367.8 L861.7,369.8 L862.7,371.8 L863.7,373.8 L864.7,375.5 L865.7,377 L866.7,378.5 L867.7,380 L868.7,382.4 L869.7,385 L870.7,386.5 L871.7,387.5 L872.7,388.5 L873.7,389.5 L874.7,392 L875.7,394.6 L876.7,397.3 L877.7,399 L878.7,400.7 L879.7,402.1 L880.7,402.8 L881.7,403.5 L882.7,403.7 L883.7,402.7 L884.7,401.7 L885.7,401 L886.7,400.7 L887.7,400.5 L888.7,400.2 L889.7,400 L890.7,399.7 L891.7,399.5 L892.7,399.2 L893.7,397.2 L894.7,394.7 L895.7,394.2 L896.7,393.9 L897.7,393.7 L898.7,393.3 L899.7,391.8 L900.7,390.3 L901.7,388.8 L902.7,387.1 L903.7,385.1 L904.7,383.2 L905.7,381.5 L906.7,380.1 L907.7,378.7 L908.7,377.6 L909.7,376.6 L910.7,375.7 L911.7,374.7 L912.7,373.7 L913.7,372.7 L914.7,371.7 L915.7,370.7 L916.7,370.4 L917.7,370.1 L918.7,369.8 L919.7,369.6 L920.7,369.1 L921.7,368.5 L922.7,368 L923.7,367.6 L924.7,367.3 L925.7,366.9 L926.7,366.6 L927.7,366.5 L928.7,366.6 L929.7,366.7 L930.7,368.4 L931.7,371.1 L932.7,373.9 L933.7,370.4 L934.7,365.3 L935.7,365.1 L936.7,365.5 L937.7,365.8 L938.7,367.1 L939.7,368.4 L940.7,369.6 L941.7,369.9 L942.7,370.2 L943.7,370.4 L944.7,370.5 L945.7,370.1 L946.7,369.6 L947.7,369.2 L948.7,369.1 L949.7,369.3 L950.7,369.5 L951.7,368.8 L952.7,367.4 L953.7,366.1 L954.7,367.1 L955.7,368.8 L956.7,370.4 L957.7,371.8 L958.7,373.2 L958.7,413.5 L632.7,413.5Z" fill="url(#g2r)"/>
<line x1="631.5" y1="414" x2="960" y2="414" stroke="#b4b7bf" stroke-width="1.2"/>
<path d="M632.7,401.1 L633.7,400.5 L634.7,400.2 L635.7,400.8 L636.7,401.4 L637.7,402 L638.7,402.5 L639.7,403.1 L640.7,403.7 L641.7,404.3 L642.7,405 L643.7,405.6 L644.7,405.6 L645.7,405.1 L646.7,403.5 L647.7,401.6 L648.7,399.6 L649.7,397.7 L650.7,395.9 L651.7,386 L652.7,369.3 L653.7,355.6 L654.7,348.9 L655.7,342.9 L656.7,339.7 L657.7,336.6 L658.7,333.4 L659.7,331 L660.7,329.9 L661.7,328.7 L662.7,327.5 L663.7,326.4 L664.7,325.3 L665.7,324.3 L666.7,323.3 L667.7,322.4 L668.7,321.4 L669.7,320.4 L670.7,320.1 L671.7,319.8 L672.7,319.6 L673.7,320 L674.7,320.4 L675.7,320.7 L676.7,321.1 L677.7,321.4 L678.7,321.8 L679.7,322.1 L680.7,322.5 L681.7,323.5 L682.7,325.6 L683.7,327.6 L684.7,329.7 L685.7,331.3 L686.7,332.5 L687.7,333.8 L688.7,335 L689.7,336.3 L690.7,337.4 L691.7,338.6 L692.7,339.8 L693.7,341 L694.7,342 L695.7,342.8 L696.7,341.6 L697.7,340.4 L698.7,339.2 L699.7,338 L700.7,337 L701.7,336.5 L702.7,336.1 L703.7,335.6 L704.7,335.7 L705.7,336.6 L706.7,337.5 L707.7,338.4 L708.7,339.3 L709.7,340.1 L710.7,341 L711.7,341.9 L712.7,341.3 L713.7,340.5 L714.7,339.8 L715.7,339 L716.7,338.3 L717.7,337.5 L718.7,336.7 L719.7,336.1 L720.7,335.9 L721.7,335.6 L722.7,335.4 L723.7,335.1 L724.7,334.9 L725.7,334.6 L726.7,334.4 L727.7,333.8 L728.7,333 L729.7,332.3 L730.7,331.6 L731.7,330.8 L732.7,330.1 L733.7,329.3 L734.7,328.6 L735.7,329 L736.7,329.3 L737.7,329.7 L738.7,330 L739.7,330.4 L740.7,330.6 L741.7,330.8 L742.7,331 L743.7,331.1 L744.7,331.3 L745.7,331.5 L746.7,332.2 L747.7,332.8 L748.7,333.6 L749.7,336 L750.7,338.4 L751.7,340.6 L752.7,342.6 L753.7,344.5 L754.7,346.5 L755.7,348.7 L756.7,351.2 L757.7,353.7 L758.7,356.2 L759.7,358.1 L760.7,359.6 L761.7,361.1 L762.7,362.6 L763.7,363.7 L764.7,364.7 L765.7,365.7 L766.7,366.8 L767.7,367.8 L768.7,368.8 L769.7,370.2 L770.7,371.5 L771.7,372.8 L772.7,374.2 L773.7,375.5 L774.7,376.7 L775.7,377.7 L776.7,378.7 L777.7,379.7 L778.7,380.5 L779.7,381.1 L780.7,381.8 L781.7,382.5 L782.7,383.1 L783.7,383.8 L784.7,383.9 L785.7,383.9 L786.7,383.9 L787.7,383.9 L788.7,383.9 L789.7,383.9 L790.7,383.9 L791.7,383.9 L792.7,383.9 L793.7,383.9 L794.7,384.3 L795.7,385.7 L796.7,387 L797.7,388.5 L798.7,390 L799.7,391.5 L800.7,393 L801.7,394 L802.7,394.8 L803.7,395.5 L804.7,396.2 L805.7,397.2 L806.7,398.2 L807.7,399.2 L808.7,400.7 L809.7,402.2 L810.7,403.7 L811.7,404.8 L812.7,404.1 L813.7,403.5 L814.7,401.2 L815.7,395.1 L816.7,387.5 L817.7,377.5 L818.7,368.2 L819.7,359.7 L820.7,351.1 L821.7,344 L822.7,337.9 L823.7,331.7 L824.7,327.9 L825.7,324.6 L826.7,321.3 L827.7,319.8 L828.7,318.4 L829.7,317.2 L830.7,317.7 L831.7,318.2 L832.7,318.7 L833.7,319.4 L834.7,320.9 L835.7,322.4 L836.7,323.9 L837.7,325.4 L838.7,326.9 L839.7,328.4 L840.7,329.9 L841.7,331.4 L842.7,332.9 L843.7,334.4 L844.7,335.9 L845.7,337 L846.7,338 L847.7,339 L848.7,340 L849.7,342.5 L850.7,345.1 L851.7,347.6 L852.7,350.1 L853.7,352.6 L854.7,355.1 L855.7,357.6 L856.7,359.9 L857.7,361.9 L858.7,363.8 L859.7,365.8 L860.7,367.8 L861.7,369.8 L862.7,371.8 L863.7,373.8 L864.7,375.5 L865.7,377 L866.7,378.5 L867.7,380 L868.7,382.4 L869.7,385 L870.7,386.5 L871.7,387.5 L872.7,388.5 L873.7,389.5 L874.7,392 L875.7,394.6 L876.7,397.3 L877.7,399 L878.7,400.7 L879.7,402.1 L880.7,402.8 L881.7,403.5 L882.7,403.7 L883.7,402.7 L884.7,401.7 L885.7,401 L886.7,400.7 L887.7,400.5 L888.7,400.2 L889.7,400 L890.7,399.7 L891.7,399.5 L892.7,399.2 L893.7,397.2 L894.7,394.7 L895.7,394.2 L896.7,393.9 L897.7,393.7 L898.7,393.3 L899.7,391.8 L900.7,390.3 L901.7,388.8 L902.7,387.1 L903.7,385.1 L904.7,383.2 L905.7,381.5 L906.7,380.1 L907.7,378.7 L908.7,377.6 L909.7,376.6 L910.7,375.7 L911.7,374.7 L912.7,373.7 L913.7,372.7 L914.7,371.7 L915.7,370.7 L916.7,370.4 L917.7,370.1 L918.7,369.8 L919.7,369.6 L920.7,369.1 L921.7,368.5 L922.7,368 L923.7,367.6 L924.7,367.3 L925.7,366.9 L926.7,366.6 L927.7,366.5 L928.7,366.6 L929.7,366.7 L930.7,368.4 L931.7,371.1 L932.7,373.9 L933.7,370.4 L934.7,365.3 L935.7,365.1 L936.7,365.5 L937.7,365.8 L938.7,367.1 L939.7,368.4 L940.7,369.6 L941.7,369.9 L942.7,370.2 L943.7,370.4 L944.7,370.5 L945.7,370.1 L946.7,369.6 L947.7,369.2 L948.7,369.1 L949.7,369.3 L950.7,369.5 L951.7,368.8 L952.7,367.4 L953.7,366.1 L954.7,367.1 L955.7,368.8 L956.7,370.4 L957.7,371.8 L958.7,373.2" fill="none" stroke="#e8505f" stroke-width="1.2" stroke-linejoin="round"/>
<path d="M631.7,375.8 L632.9,378.3 L634,380.7 L635.1,382.8 L636.3,383.8 L637.4,385.6 L638.6,385 L639.7,387.7 L640.9,391.1 L642,392.7 L643.2,390.5 L644.3,385.2 L645.5,384.9 L646.6,386.3 L647.8,388.9 L648.9,390.9 L650.1,391.3 L651.2,393.4 L652.4,393.2 L653.5,393 L654.7,391.4 L655.8,391.2 L657,393.8 L658.1,391.9 L659.3,391.3 L660.4,388.6 L661.6,386.7 L662.7,387.2 L663.9,384.6 L665,383.5 L666.2,384 L667.3,382.7 L668.5,380.5 L669.6,381.4 L670.8,379.9 L671.9,379.4 L673.1,376.4 L674.2,376.1 L675.4,369.7 L676.5,362.9 L677.7,355.9 L678.8,347.8 L680,348.9 L681.1,356.5 L682.3,351.5 L683.4,347.7 L684.6,356.3 L685.7,358.1 L686.9,352.6 L688,350.1 L689.2,349.8 L690.3,350.1 L691.5,351.8 L692.6,351.6 L693.8,346.3 L694.9,342.4 L696.1,340.6 L697.2,336.8 L698.4,336.5 L699.5,331.2 L700.7,323.3 L701.8,330.3 L703,332.8 L704.1,335.1 L705.3,339.2 L706.4,344.4 L707.6,346.9 L708.7,350.8 L709.9,352.5 L711,355 L712.2,354.9 L713.3,359.2 L714.5,362.6 L715.6,361.2 L716.8,357.5 L717.9,355.6 L719.1,354.9 L720.2,356.8 L721.4,357.6 L722.5,361.7 L723.7,366.4 L724.8,371.1 L726,373.4 L727.1,379.3 L728.3,380.9 L729.4,383.7 L730.6,386.6 L731.7,389 L732.9,389.3 L734,391.4 L735.2,389.8 L736.3,388.6 L737.5,386.6 L738.6,384.1 L739.8,381.2 L740.9,377.5 L742.1,374.8 L743.2,372.6 L744.4,369.9 L745.5,368.9 L746.7,374.1 L747.8,376.9 L749,380.1 L750.1,382.4 L751.3,386 L752.4,382.9 L753.6,377.9 L754.7,373.5 L755.9,368.2 L757,365.5 L758.2,362 L759.3,361.1 L760.5,357.2 L761.6,351.5 L762.8,348.9 L763.9,346.1 L765.1,346.1 L766.2,347.2 L767.4,344.2 L768.5,341.8 L769.7,338.6 L770.8,341.7 L772,342.1 L773.1,343 L774.3,344.2 L775.4,342.4 L776.6,331.7 L777.7,322.3 L778.9,332.5 L780,343.2 L781.2,344.2 L782.3,344.9 L783.5,346.7 L784.6,348 L785.8,350.4 L786.9,352.9 L788.1,354 L789.2,354.4 L790.4,354.9 L791.5,355.1 L792.7,355.1 L793.8,357.3 L795,361.9 L796.1,365.5 L797.3,367.5 L798.4,367.9 L799.6,367.3 L800.7,366.6 L801.9,367.2 L803,368.6 L804.2,368.8 L805.3,370.7 L806.5,368.6 L807.6,366.4 L808.8,364.4 L809.9,361.9 L811.1,358.7 L812.2,357.9 L813.4,357.6 L814.5,358.6 L815.7,358.5 L816.8,358.9 L818,355.4 L819.1,353.5 L820.3,350.5 L821.4,350.7 L822.6,349.8 L823.7,349.5 L824.9,349 L826,350.2 L827.2,351 L828.3,350.5 L829.5,347.7 L830.6,347.1 L831.8,345.7 L832.9,344.7 L834.1,344.8 L835.2,344.2 L836.4,343.9 L837.5,344.7 L838.7,344.8 L839.8,347 L841,348 L842.1,347.7 L843.3,348.9 L844.4,350.4 L845.6,352.6 L846.7,353.7 L847.9,366.2 L849,373.4 L850.2,372.5 L851.3,370.4 L852.5,369.1 L853.6,367.7 L854.8,365.9 L855.9,364.9 L857.1,362.3 L858.2,361.4 L859.4,364.7 L860.5,368.1 L861.7,370.1 L862.8,368 L864,361.6 L865.1,355.2 L866.3,355.4 L867.4,354.1 L868.6,353.9 L869.7,354.6 L870.9,355.3 L872,355.3 L873.2,355.6 L874.3,356.1 L875.5,358.6 L876.6,359.9 L877.8,352.7 L878.9,346.5 L880.1,343.8 L881.2,343.2 L882.4,343.3 L883.5,346.9 L884.7,347.5 L885.8,345.6 L887,342.6 L888.1,344.3 L889.3,343.9 L890.4,343.7 L891.6,346.5 L892.7,347.7 L893.9,350.5 L895,347.1 L896.2,344.6 L897.3,343.9 L898.5,343.2 L899.6,342 L900.8,345.7 L901.9,348 L903.1,348.7 L904.2,348.6 L905.4,349.8 L906.5,348.1 L907.7,347.4 L908.8,347.7 L910,348 L911.1,348.2 L912.3,347.7 L913.4,344 L914.6,342.5 L915.7,344.2 L916.9,345.5 L918,345.6 L919.2,346.6 L920.3,346 L921.5,343.7 L922.6,342.6 L923.8,340.6 L924.9,339.2 L926.1,341.5 L927.2,341.9 L928.4,344.9 L929.5,346 L930.7,345.6 L931.8,345.1 L933,346.8 L934.1,344.3 L935.3,342.6 L936.4,341.3 L937.6,342 L938.7,340.1 L939.9,338.2 L941,337.2 L942.2,334.9 L943.3,334.4 L944.5,332.3 L945.6,330.2 L946.8,329.3 L947.9,327.2 L949.1,323.1 L950.2,321.2 L951.4,317.6 L952.5,317 L953.7,321.8 L954.8,323.9 L956,326.5 L957.1,326.6 L958.3,328.8" fill="none" stroke="#3b4a7e" stroke-width="1.1" stroke-linejoin="round"/>
<path d="M631.7,375.9 L632.9,379.4 L634,381.4 L635.1,384.1 L636.3,384.9 L637.4,387.2 L638.6,384.6 L639.7,389.4 L640.9,391.2 L642,393.6 L643.2,390.8 L644.3,385.4 L645.5,385.8 L646.6,387 L647.8,389.3 L648.9,392.5 L650.1,392.4 L651.2,392.7 L652.4,393.2 L653.5,393.7 L654.7,393.5 L655.8,393.2 L657,394.7 L658.1,391.1 L659.3,393 L660.4,389.1 L661.6,387.7 L662.7,388.6 L663.9,385.8 L665,384.2 L666.2,386.1 L667.3,383.1 L668.5,380.9 L669.6,383.3 L670.8,379.7 L671.9,379.6 L673.1,378.3 L674.2,375.5 L675.4,371.6 L676.5,364.4 L677.7,356.5 L678.8,347.9 L680,350.6 L681.1,358.6 L682.3,351.2 L683.4,348.4 L684.6,357.2 L685.7,358.9 L686.9,352.8 L688,349.8 L689.2,350.8 L690.3,351.9 L691.5,351.2 L692.6,351.6 L693.8,348.1 L694.9,344.1 L696.1,341.9 L697.2,336.1 L698.4,338.1 L699.5,333.5 L700.7,325.7 L701.8,331.7 L703,332.2 L704.1,337 L705.3,339.1 L706.4,345.7 L707.6,349.2 L708.7,352.3 L709.9,352.1 L711,355.1 L712.2,357 L713.3,358.9 L714.5,363.8 L715.6,361.7 L716.8,357.2 L717.9,356.8 L719.1,354.2 L720.2,356.3 L721.4,358 L722.5,361.2 L723.7,365.8 L724.8,372.1 L726,375 L727.1,381.3 L728.3,380.5 L729.4,384.3 L730.6,386.8 L731.7,390.1 L732.9,390 L734,393.6 L735.2,390.2 L736.3,387.9 L737.5,388.1 L738.6,383.7 L739.8,382.4 L740.9,378.3 L742.1,376.9 L743.2,373.5 L744.4,371.1 L745.5,369 L746.7,375.1 L747.8,376.9 L749,381.7 L750.1,383.3 L751.3,385.6 L752.4,382.9 L753.6,378.3 L754.7,375.1 L755.9,368 L757,367 L758.2,363.3 L759.3,360.6 L760.5,358.6 L761.6,351 L762.8,348.5 L763.9,347.2 L765.1,346.1 L766.2,349.2 L767.4,344.9 L768.5,342.1 L769.7,340.3 L770.8,341 L772,343.6 L773.1,342.4 L774.3,343.9 L775.4,344.7 L776.6,333.1 L777.7,322.2 L778.9,332.1 L780,345.5 L781.2,345.5 L782.3,346.7 L783.5,346.3 L784.6,349.2 L785.8,350.8 L786.9,352.9 L788.1,354.3 L789.2,355.6 L790.4,355.2 L791.5,355.6 L792.7,354.8 L793.8,359.1 L795,363.1 L796.1,367.3 L797.3,368.1 L798.4,369.8 L799.6,368.2 L800.7,367.6 L801.9,368.3 L803,370.1 L804.2,369.3 L805.3,370.2 L806.5,367.9 L807.6,366.2 L808.8,363.7 L809.9,364 L811.1,359.5 L812.2,359.5 L813.4,356.8 L814.5,359.3 L815.7,360.6 L816.8,360.1 L818,356 L819.1,354.1 L820.3,350 L821.4,350.4 L822.6,349.5 L823.7,349.9 L824.9,349.4 L826,352.2 L827.2,350.7 L828.3,350.5 L829.5,347.8 L830.6,346.9 L831.8,345.8 L832.9,344.7 L834.1,345.5 L835.2,343.5 L836.4,346 L837.5,345.1 L838.7,347 L839.8,348.4 L841,349.3 L842.1,348.4 L843.3,351.1 L844.4,349.9 L845.6,354 L846.7,353.8 L847.9,367.5 L849,375 L850.2,372.2 L851.3,370.2 L852.5,368.4 L853.6,367.7 L854.8,365.4 L855.9,365.4 L857.1,364.6 L858.2,361.8 L859.4,364.9 L860.5,368.8 L861.7,370.2 L862.8,369.6 L864,363.1 L865.1,355 L866.3,355.4 L867.4,355.5 L868.6,356.1 L869.7,355.8 L870.9,355.9 L872,357.6 L873.2,354.8 L874.3,355.5 L875.5,360.2 L876.6,360.4 L877.8,352.1 L878.9,347.5 L880.1,346.1 L881.2,344.1 L882.4,343.6 L883.5,346.4 L884.7,347 L885.8,347.6 L887,343.4 L888.1,346.5 L889.3,343.2 L890.4,343.7 L891.6,345.8 L892.7,348.1 L893.9,349.9 L895,347.1 L896.2,345.1 L897.3,344.1 L898.5,342.5 L899.6,341.4 L900.8,348 L901.9,347.8 L903.1,349.6 L904.2,349.1 L905.4,350.7 L906.5,347.6 L907.7,347.7 L908.8,347.2 L910,349 L911.1,350.4 L912.3,348.8 L913.4,346 L914.6,342.4 L915.7,343.5 L916.9,346.4 L918,346.3 L919.2,347.6 L920.3,346.4 L921.5,344.9 L922.6,344.1 L923.8,342.7 L924.9,339.4 L926.1,342.1 L927.2,343.8 L928.4,344.9 L929.5,345.6 L930.7,345.8 L931.8,344.6 L933,348.5 L934.1,346.1 L935.3,342.8 L936.4,340.9 L937.6,341.4 L938.7,340.1 L939.9,337.7 L941,337.8 L942.2,336 L943.3,334.4 L944.5,331.7 L945.6,331.7 L946.8,328.7 L947.9,327 L949.1,323.2 L950.2,321.6 L951.4,317.1 L952.5,317.6 L953.7,322 L954.8,325.5 L956,327.4 L957.1,328.6 L958.3,330" fill="none" stroke="#3aa9c9" stroke-width="1.0" stroke-linejoin="round"/>
<path d="M631.7,379.3 L632.9,381.5 L634,383.7 L635.1,386.5 L636.3,387.2 L637.4,389.5 L638.6,388.5 L639.7,391.2 L640.9,393.8 L642,396.4 L643.2,393.4 L644.3,387.7 L645.5,387.2 L646.6,388.8 L647.8,391.6 L648.9,394.3 L650.1,394 L651.2,395.7 L652.4,396.7 L653.5,396.2 L654.7,393.6 L655.8,393.5 L657,396.2 L658.1,394.7 L659.3,395 L660.4,392.5 L661.6,390 L662.7,389.8 L663.9,387.6 L665,386.3 L666.2,386.8 L667.3,384.9 L668.5,383.7 L669.6,385.1 L670.8,383.4 L671.9,381.8 L673.1,379.6 L674.2,378.6 L675.4,373.2 L676.5,365.9 L677.7,359.8 L678.8,351.5 L680,351.3 L681.1,359.3 L682.3,355.4 L683.4,350.7 L684.6,359.2 L685.7,361.1 L686.9,356.2 L688,354 L689.2,352.9 L690.3,354.1 L691.5,355 L692.6,354 L693.8,350 L694.9,345.3 L696.1,342.8 L697.2,340.8 L698.4,338.8 L699.5,334.4 L700.7,326.4 L701.8,334.1 L703,335.7 L704.1,337.7 L705.3,341.9 L706.4,347 L707.6,350.1 L708.7,353.6 L709.9,356.1 L711,357.6 L712.2,357.7 L713.3,361.8 L714.5,366.6 L715.6,364.9 L716.8,361.2 L717.9,358.9 L719.1,357.8 L720.2,359.2 L721.4,361.3 L722.5,364.8 L723.7,368.7 L724.8,373.6 L726,375.8 L727.1,382.8 L728.3,384.7 L729.4,386.3 L730.6,390.2 L731.7,391.8 L732.9,392.7 L734,395.2 L735.2,393.1 L736.3,392.2 L737.5,389.5 L738.6,386.3 L739.8,384.3 L740.9,380.7 L742.1,377.3 L743.2,375.5 L744.4,372.7 L745.5,371.2 L746.7,376.9 L747.8,379.8 L749,383.1 L750.1,385.9 L751.3,388.9 L752.4,386.9 L753.6,381.6 L754.7,377.4 L755.9,371.6 L757,368.9 L758.2,365.1 L759.3,364.7 L760.5,360.1 L761.6,354.8 L762.8,352.3 L763.9,349.2 L765.1,348.9 L766.2,349.6 L767.4,346.5 L768.5,344.7 L769.7,341.8 L770.8,345.3 L772,345.6 L773.1,345.7 L774.3,348.1 L775.4,345.1 L776.6,335.2 L777.7,324.6 L778.9,336.1 L780,346.6 L781.2,348.1 L782.3,348.7 L783.5,350.1 L784.6,351.7 L785.8,354 L786.9,356.2 L788.1,356.6 L789.2,357.6 L790.4,358.7 L791.5,357.8 L792.7,359.1 L793.8,360.4 L795,364.8 L796.1,367.7 L797.3,370.4 L798.4,370.4 L799.6,370.7 L800.7,370.4 L801.9,371.1 L803,371.9 L804.2,371.7 L805.3,373.1 L806.5,372 L807.6,369.6 L808.8,367.9 L809.9,364.8 L811.1,362.5 L812.2,360.5 L813.4,360.4 L814.5,361.3 L815.7,361.8 L816.8,362.7 L818,357.9 L819.1,356.8 L820.3,354.1 L821.4,353.3 L822.6,352.1 L823.7,352.7 L824.9,352.7 L826,354 L827.2,354.5 L828.3,353.4 L829.5,350.7 L830.6,350.3 L831.8,349.5 L832.9,347.5 L834.1,347.5 L835.2,347.5 L836.4,347.8 L837.5,347.3 L838.7,347.1 L839.8,349.4 L841,351.2 L842.1,351 L843.3,351.4 L844.4,352.9 L845.6,355.9 L846.7,357 L847.9,369.6 L849,376.9 L850.2,374.8 L851.3,373.5 L852.5,372.8 L853.6,371.7 L854.8,368.7 L855.9,368.7 L857.1,365.6 L858.2,365.3 L859.4,367.4 L860.5,371.6 L861.7,373.8 L862.8,371.1 L864,364 L865.1,357.8 L866.3,357.9 L867.4,356.5 L868.6,356.4 L869.7,357.9 L870.9,357.7 L872,358.8 L873.2,359.1 L874.3,359.8 L875.5,362.2 L876.6,363.4 L877.8,356.6 L878.9,350.4 L880.1,347.1 L881.2,347.2 L882.4,345.7 L883.5,349.2 L884.7,349.8 L885.8,348.1 L887,345.5 L888.1,347.3 L889.3,347.3 L890.4,347.2 L891.6,348.8 L892.7,350.6 L893.9,353.7 L895,349.9 L896.2,347 L897.3,347.2 L898.5,346.1 L899.6,345.5 L900.8,348.8 L901.9,352 L903.1,352.6 L904.2,350.9 L905.4,353.3 L906.5,351.6 L907.7,350.2 L908.8,350.1 L910,351.1 L911.1,351.1 L912.3,351.2 L913.4,347.9 L914.6,345.4 L915.7,346.9 L916.9,348.6 L918,349 L919.2,350.2 L920.3,349.2 L921.5,346.5 L922.6,345.4 L923.8,344.3 L924.9,342.3 L926.1,343.8 L927.2,344.9 L928.4,347.6 L929.5,349.4 L930.7,347.9 L931.8,347.8 L933,349.2 L934.1,347.3 L935.3,346.5 L936.4,344.5 L937.6,344.9 L938.7,344 L939.9,340.6 L941,340 L942.2,338.6 L943.3,336.6 L944.5,335.9 L945.6,333.1 L946.8,331.6 L947.9,329.8 L949.1,326.2 L950.2,324.1 L951.4,320.7 L952.5,319.3 L953.7,324.4 L954.8,327.9 L956,329.4 L957.1,329.6 L958.3,331.1" fill="none" stroke="#e9a45c" stroke-width="1.35" stroke-linejoin="round"/>
</svg>

<!-- Seasonal card -->
<div class="card" style="left:6px;top:443px;width:587.5px;height:257.5px"></div>
<div class="t title" style="left:15.7px;top:457px">近三年中国电解铝锭社会库存走势图</div>
<div class="t" style="left:15.7px;top:476.8px;font-size:8.3px;color:#555a66">季节性图表</div>
<div class="abs" style="left:58.7px;top:477.2px;width:15.8px;height:8.4px;border-radius:4.2px;background:#2d55b4"></div>
<div class="abs" style="left:66.6px;top:478.2px;width:6.4px;height:6.4px;border-radius:50%;background:#fff"></div>
<div class="abs" style="left:23.6px;top:499.7px;width:8.2px;height:1.3px;background:#4b5286"></div>
<div class="t lg" style="left:35.3px;top:496px;">2023年</div>
<div class="abs" style="left:69.5px;top:499.7px;width:8.2px;height:1.3px;background:#45abb8"></div>
<div class="t lg" style="left:81.2px;top:496px;">2024年</div>
<div class="abs" style="left:115.4px;top:499.7px;width:8.2px;height:1.3px;background:#eda45f"></div>
<div class="t lg" style="left:127.1px;top:496px;font-weight:bold;color:#333">2025年</div>
<div class="t ax" style="left:42px;top:512.5px;font-size:7.4px">万吨</div>
<div class="t ax" style="left:37.5px;top:675.1px;transform:translateX(-100%);">30</div>
<div class="t ax" style="left:37.5px;top:637.5px;transform:translateX(-100%);">60</div>
<div class="t ax" style="left:37.5px;top:600.0px;transform:translateX(-100%);">90</div>
<div class="t ax" style="left:37.5px;top:562.4px;transform:translateX(-100%);">120</div>
<div class="t ax" style="left:37.5px;top:524.8px;transform:translateX(-100%);">150</div>
<div class="t ax" style="left:47.8px;top:685.1px;transform:translateX(-50%);font-size:7.6px">第1周</div>
<div class="t ax" style="left:77.8px;top:685.1px;transform:translateX(-50%);font-size:7.6px">第4周</div>
<div class="t ax" style="left:107.9px;top:685.1px;transform:translateX(-50%);font-size:7.6px">第7周</div>
<div class="t ax" style="left:137.9px;top:685.1px;transform:translateX(-50%);font-size:7.6px">第10周</div>
<div class="t ax" style="left:167.9px;top:685.1px;transform:translateX(-50%);font-size:7.6px">第13周</div>
<div class="t ax" style="left:197.9px;top:685.1px;transform:translateX(-50%);font-size:7.6px">第16周</div>
<div class="t ax" style="left:228.0px;top:685.1px;transform:translateX(-50%);font-size:7.6px">第19周</div>
<div class="t ax" style="left:258.0px;top:685.1px;transform:translateX(-50%);font-size:7.6px">第22周</div>
<div class="t ax" style="left:288.0px;top:685.1px;transform:translateX(-50%);font-size:7.6px">第25周</div>
<div class="t ax" style="left:318.1px;top:685.1px;transform:translateX(-50%);font-size:7.6px">第28周</div>
<div class="t ax" style="left:348.1px;top:685.1px;transform:translateX(-50%);font-size:7.6px">第31周</div>
<div class="t ax" style="left:378.1px;top:685.1px;transform:translateX(-50%);font-size:7.6px">第34周</div>
<div class="t ax" style="left:408.2px;top:685.1px;transform:translateX(-50%);font-size:7.6px">第37周</div>
<div class="t ax" style="left:438.2px;top:685.1px;transform:translateX(-50%);font-size:7.6px">第40周</div>
<div class="t ax" style="left:468.2px;top:685.1px;transform:translateX(-50%);font-size:7.6px">第43周</div>
<div class="t ax" style="left:498.2px;top:685.1px;transform:translateX(-50%);font-size:7.6px">第46周</div>
<div class="t ax" style="left:528.3px;top:685.1px;transform:translateX(-50%);font-size:7.6px">第49周</div>
<div class="t ax" style="left:558.3px;top:685.1px;transform:translateX(-50%);font-size:7.6px">第52周</div>
<div class="wm" style="left:301px;top:593px">SMM</div>
<svg class="abs" style="left:0;top:0" width="1024" height="708" viewBox="0 0 1024 708">
<defs><linearGradient id="g3n" x1="0" y1="0" x2="0" y2="1"><stop offset="0" stop-color="#454f8e" stop-opacity="0.40"/><stop offset="1" stop-color="#454f8e" stop-opacity="0.03"/></linearGradient><linearGradient id="g3t" x1="0" y1="0" x2="0" y2="1"><stop offset="0" stop-color="#46b8cc" stop-opacity="0.38"/><stop offset="0.45" stop-color="#46b8cc" stop-opacity="0.12"/><stop offset="1" stop-color="#46b8cc" stop-opacity="0.02"/></linearGradient><linearGradient id="g3o" x1="0" y1="0" x2="0" y2="1"><stop offset="0" stop-color="#ee9d52" stop-opacity="0.34"/><stop offset="1" stop-color="#ee9d52" stop-opacity="0.04"/></linearGradient></defs>
<line x1="41.5" y1="640.9" x2="564" y2="640.9" stroke="#f0f1f4" stroke-width="1"/>
<line x1="41.5" y1="603.4" x2="564" y2="603.4" stroke="#f0f1f4" stroke-width="1"/>
<line x1="41.5" y1="565.8" x2="564" y2="565.8" stroke="#f0f1f4" stroke-width="1"/>
<line x1="41.5" y1="528.2" x2="564" y2="528.2" stroke="#f0f1f4" stroke-width="1"/>
<path d="M57.8,634.6 L67.8,622.2 L77.8,598 L87.8,584 L97.8,567.6 L107.9,564.1 L117.9,560.5 L127.9,557.6 L137.9,558.5 L147.9,565.7 L157.9,576.6 L167.9,581.2 L177.9,586.7 L187.9,595.9 L197.9,604.1 L208,610 L218,612.7 L228,618.9 L238,627.7 L248,634.4 L258,642.3 L268,647.5 L278,651.4 L288,651.4 L298.1,651 L308.1,650 L318.1,647.1 L328.1,647.1 L338.1,649.9 L348.1,651.5 L358.1,653 L368.1,654.9 L378.1,654.7 L388.1,654.4 L398.1,652.1 L408.2,651.6 L418.2,651.4 L428.2,653.5 L438.2,642.3 L448.2,638.4 L458.2,637.8 L468.2,637.8 L478.2,633.5 L488.2,630.7 L498.2,631.8 L508.3,635.6 L518.3,641.1 L528.3,646.3 L538.3,656.3 L548.3,660.2 L558.3,662.3 L558.3,678.5 L57.8,678.5Z" fill="url(#g3n)"/>
<path d="M47.8,658.4 L57.8,659 L67.8,660.7 L77.8,661.2 L87.8,657.2 L97.8,654.1 L107.9,636.6 L117.9,626.6 L127.9,617.5 L137.9,613.4 L147.9,611 L157.9,609.6 L167.9,608.6 L177.9,610.4 L187.9,609.9 L197.9,611.5 L208,614.5 L218,617 L228,619.9 L238,622.7 L248,620.5 L258,618.9 L268,619 L278,619 L288,621.6 L298.1,620.9 L308.1,619.3 L318.1,617.8 L328.1,617 L338.1,617.7 L348.1,614.4 L358.1,612.4 L368.1,613.7 L378.1,616.2 L388.1,615.4 L398.1,617.9 L408.2,622.8 L418.2,624.3 L428.2,629.4 L438.2,634 L448.2,632.1 L458.2,635.5 L468.2,637.5 L478.2,640.8 L488.2,645.6 L498.2,646.6 L508.3,649.2 L518.3,647.2 L528.3,647.6 L538.3,646.6 L548.3,649.9 L558.3,655 L558.3,678.5 L47.8,678.5Z" fill="url(#g3t)"/>
<path d="M47.8,656 L57.8,659.1 L67.8,661.2 L77.8,657.9 L87.8,653.2 L97.8,634.6 L107.9,620.9 L117.9,611.3 L127.9,607 L137.9,607.2 L147.9,609 L157.9,613.2 L167.9,617.8 L177.9,620.3 L187.9,623.3 L197.9,629.1 L208,634.3 L218,639 L228,639.3 L238,643.3 L248,646.7 L258,651.5 L268,653.8 L278,658.4 L288,659.9 L298.1,658.5 L308.1,657 L318.1,657.1 L328.1,654 L338.1,651 L348.1,647.9 L358.1,645 L368.1,642.8 L378.1,641.2 L388.1,638.4 L398.1,637.8 L408.2,637.7 L418.2,636.6 L428.2,639.2 L438.2,640.7 L448.2,635.2 L458.2,637.2 L468.2,638.8 L478.2,639 L488.2,638.5 L498.2,638.5 L508.3,639.1 L518.3,641.6 L518.3,678.5 L47.8,678.5Z" fill="url(#g3o)"/>
<line x1="41.5" y1="679" x2="564" y2="679" stroke="#b4b7bf" stroke-width="1.2"/>
<path d="M57.8,634.6 L67.8,622.2 L77.8,598 L87.8,584 L97.8,567.6 L107.9,564.1 L117.9,560.5 L127.9,557.6 L137.9,558.5 L147.9,565.7 L157.9,576.6 L167.9,581.2 L177.9,586.7 L187.9,595.9 L197.9,604.1 L208,610 L218,612.7 L228,618.9 L238,627.7 L248,634.4 L258,642.3 L268,647.5 L278,651.4 L288,651.4 L298.1,651 L308.1,650 L318.1,647.1 L328.1,647.1 L338.1,649.9 L348.1,651.5 L358.1,653 L368.1,654.9 L378.1,654.7 L388.1,654.4 L398.1,652.1 L408.2,651.6 L418.2,651.4 L428.2,653.5 L438.2,642.3 L448.2,638.4 L458.2,637.8 L468.2,637.8 L478.2,633.5 L488.2,630.7 L498.2,631.8 L508.3,635.6 L518.3,641.1 L528.3,646.3 L538.3,656.3 L548.3,660.2 L558.3,662.3" fill="none" stroke="#4b5286" stroke-width="1.4" stroke-linejoin="round"/>
<path d="M47.8,658.4 L57.8,659 L67.8,660.7 L77.8,661.2 L87.8,657.2 L97.8,654.1 L107.9,636.6 L117.9,626.6 L127.9,617.5 L137.9,613.4 L147.9,611 L157.9,609.6 L167.9,608.6 L177.9,610.4 L187.9,609.9 L197.9,611.5 L208,614.5 L218,617 L228,619.9 L238,622.7 L248,620.5 L258,618.9 L268,619 L278,619 L288,621.6 L298.1,620.9 L308.1,619.3 L318.1,617.8 L328.1,617 L338.1,617.7 L348.1,614.4 L358.1,612.4 L368.1,613.7 L378.1,616.2 L388.1,615.4 L398.1,617.9 L408.2,622.8 L418.2,624.3 L428.2,629.4 L438.2,634 L448.2,632.1 L458.2,635.5 L468.2,637.5 L478.2,640.8 L488.2,645.6 L498.2,646.6 L508.3,649.2 L518.3,647.2 L528.3,647.6 L538.3,646.6 L548.3,649.9 L558.3,655" fill="none" stroke="#45abb8" stroke-width="1.3" stroke-linejoin="round"/>
<path d="M47.8,656 L57.8,659.1 L67.8,661.2 L77.8,657.9 L87.8,653.2 L97.8,634.6 L107.9,620.9 L117.9,611.3 L127.9,607 L137.9,607.2 L147.9,609 L157.9,613.2 L167.9,617.8 L177.9,620.3 L187.9,623.3 L197.9,629.1 L208,634.3 L218,639 L228,639.3 L238,643.3 L248,646.7 L258,651.5 L268,653.8 L278,658.4 L288,659.9 L298.1,658.5 L308.1,657 L318.1,657.1 L328.1,654 L338.1,651 L348.1,647.9 L358.1,645 L368.1,642.8 L378.1,641.2 L388.1,638.4 L398.1,637.8 L408.2,637.7 L418.2,636.6 L428.2,639.2 L438.2,640.7 L448.2,635.2 L458.2,637.2 L468.2,638.8 L478.2,639 L488.2,638.5 L498.2,638.5 L508.3,639.1 L518.3,641.6" fill="none" stroke="#eea562" stroke-width="2" stroke-linejoin="round"/>
</svg>

<!-- Notes card -->
<div class="card" style="left:599px;top:443px;width:418px;height:257.5px"></div>
<div class="t title" style="left:609.6px;top:456.5px;font-size:11px">备注</div>
<div class="note" style="top:470.8px">SMM全国库存统计样本内，包含佛山地区3.67万吨、宁波地区2.6万吨、上海地区2.5万吨、天津地区2万</div>
<div class="note" style="top:480.5px">吨、杭州地区1万吨、山东地区0.8万吨，共约12.6万吨质押不能流动库存。杭州地区（含田川库、宁波库、</div>
<div class="note" style="top:490.2px">嘉兴库）；巩义地区（含巩义、洛阳、郑州）；无锡地区（含无锡、常州、海安）；临沂（含济南）。自</div>
<div class="note" style="top:499.9px">2018年10月11日起，广东南海库存新增炬申南拓码头数据；2021年2月8日起新增巩义中储库存数据；2022</div>
<div class="note" style="top:509.6px">年5月30日新增浙江嘉兴南湖库存数据。2022年8月4日，新增巩义地区炬申仓库数据。2022年8月22日，新</div>
<div class="note" style="top:519.3px">增中铝物流（无锡仓）库存数据。2023年3月9日，新增中铝物流（华南仓）库存数据。2023年11月9日，河</div>
<div class="note" style="top:529.0px">南国储四三一处公用型保税仓库正式开仓运营，巩义地区库存含有该保税仓库库存。2024年4月11日，国储</div>
<div class="note" style="top:538.8px">肇庆仓库纳入SMM佛山地区库存数据统计。2025年7月17日，佛山中拓仓库纳入佛山地区库存统计。</div>
<div class="note" style="top:557.0px">除公开信息外的其他数据均是基于公开信息、市场交流、依托SMM内部数据库模型，由SMM进行加工得</div>
<div class="note" style="top:567.1px">出，仅供参考，不构成决策建议。<span style="color:#e0242c;font-style:italic;font-weight:bold">铝锭库存数据已于9:00前在SMM数据库和数据终端分析模块完成更新。</span></div>
<div class="abs" style="left:609.5px;top:583.7px;width:398.3px;height:79.2px;overflow:hidden;background:#0a0e1b">
<svg class="abs" style="left:0;top:0" width="398.3" height="79.2" viewBox="0 0 398.3 79.2">
<defs>
<radialGradient id="bg1" cx="300" cy="10" r="110" gradientUnits="userSpaceOnUse"><stop offset="0" stop-color="#3c5a7c" stop-opacity=".85"/><stop offset=".5" stop-color="#1b2b45" stop-opacity=".6"/><stop offset="1" stop-color="#0a0e1b" stop-opacity="0"/></radialGradient>
<radialGradient id="bg2" cx="80" cy="40" r="160" gradientUnits="userSpaceOnUse"><stop offset="0" stop-color="#161d33"/><stop offset="1" stop-color="#0a0e1b" stop-opacity="0"/></radialGradient>
<linearGradient id="rb" x1="120" y1="0" x2="330" y2="0" gradientUnits="userSpaceOnUse"><stop offset="0" stop-color="#b4141e" stop-opacity="0"/><stop offset=".2" stop-color="#b8141e" stop-opacity=".9"/><stop offset=".75" stop-color="#c8161f"/><stop offset="1" stop-color="#c8161f" stop-opacity="0"/></linearGradient>
<linearGradient id="st" x1="0" y1="0" x2="1" y2="1"><stop offset="0" stop-color="#6f93b8" stop-opacity=".0"/><stop offset=".5" stop-color="#7ea3c7" stop-opacity=".45"/><stop offset="1" stop-color="#6f93b8" stop-opacity="0"/></linearGradient>
<linearGradient id="sil" x1="0" y1="0" x2="0" y2="1"><stop offset="0" stop-color="#ffffff"/><stop offset=".55" stop-color="#e9edf3"/><stop offset="1" stop-color="#9fa9b8"/></linearGradient>
</defs>
<rect width="398.3" height="79.2" fill="url(#bg2)"/>
<rect width="398.3" height="79.2" fill="url(#bg1)"/>
<path d="M235 0 C 270 20, 285 45, 262 79 L 285 79 C 305 45, 290 15, 262 0 Z" fill="url(#st)"/>
<path d="M275 0 C 305 25, 310 50, 300 79 L 315 79 C 325 50, 315 20, 290 0 Z" fill="#5d83a8" fill-opacity=".2"/>
<path d="M60 30 L95 30 L140 79 L105 79 Z" fill="#3a4a6a" fill-opacity=".18"/>
<rect x="110" y="57.8" width="230" height="9.5" fill="url(#rb)"/>
</svg>
<div class="t" style="left:14.6px;top:6.6px;font:bold 26.6px 'Liberation Sans',sans-serif;color:#eef1f5;background:linear-gradient(#fff 0%,#f1f4f8 55%,#a4aebd 100%);-webkit-background-clip:text;background-clip:text;-webkit-text-fill-color:transparent;-webkit-text-stroke:0.9px #e3e7ee;letter-spacing:-0.6px">SMM</div>
<div class="t" style="left:80.3px;top:6.6px;font:bold 26.6px 'Liberation Sans',sans-serif;transform:scaleX(0.8);transform-origin:0 0;background:linear-gradient(#fff 0%,#f1f4f8 55%,#a4aebd 100%);-webkit-background-clip:text;background-clip:text;-webkit-text-fill-color:transparent;-webkit-text-stroke:0.9px #e3e7ee;letter-spacing:-0.6px">AICE</div>
<div class="t" style="left:136.3px;top:9.2px;font:bold 14px 'Liberation Sans',sans-serif;color:#fff;-webkit-text-stroke:0.3px #fff;letter-spacing:0px">2026</div>
<div class="abs" style="left:134.6px;top:23.6px;width:35px;height:7.6px;border-radius:2px;background:linear-gradient(#f4f6f9,#b9c1cc)"></div>
<div class="t" style="left:137.8px;top:24.5px;font-size:5.6px;font-weight:bold;color:#1c2545;letter-spacing:0.6px">第二十一届</div>
<div class="t" style="left:174.3px;top:12.3px;font-size:13.7px;font-weight:bold;background:linear-gradient(#fff 0%,#eef1f6 60%,#a9b4c4 100%);-webkit-background-clip:text;background-clip:text;-webkit-text-fill-color:transparent">铝业大会暨铝产业博览会</div>
<div class="t" style="left:174.5px;top:28px;font-size:4.4px;color:#c5ccd8;letter-spacing:0.57px">SMM ALUMINUM INDUSTRY CONFERENCE AND EXPO 2026</div>
<div class="t" style="left:19.6px;top:43px;font:13.4px 'Liberation Sans',sans-serif;color:#f4f6fa;-webkit-text-stroke:0.35px #f4f6fa;letter-spacing:1.3px">4/8</div>
<div class="abs" style="left:45.7px;top:50.6px;width:17.8px;height:1px;background:#c6ccd6"></div>
<div class="t" style="left:66.5px;top:43px;font:13.4px 'Liberation Sans',sans-serif;color:#f4f6fa;-webkit-text-stroke:0.35px #f4f6fa;letter-spacing:0.75px">4/10</div>
<div class="t" style="left:19.6px;top:61.4px;font-size:6.9px;font-weight:bold;color:#e6e9ef;letter-spacing:2.65px">苏州国际博览中心</div>
<div class="t" style="left:178.3px;top:47px;font-size:7.6px;font-weight:bold;color:#d8dde6;letter-spacing:1.55px">提质立新 × 向新通海</div>
<div class="t" style="left:132.3px;top:59.5px;font-size:5.2px;font-weight:bold;color:#f1d6d8">联系方式</div>
<div class="t" style="left:163.3px;top:59px;font-size:5.8px;font-weight:bold;color:#fff">⊗ 娄可心</div>
<div class="t" style="left:199px;top:59px;font-size:6.2px;font-weight:bold;color:#fff">✆ 190 6801 9380</div>
<div class="t" style="left:254px;top:59px;font-size:6.4px;font-weight:bold;color:#fff">▪ loukexin@smm.cn</div>
<div class="abs" style="left:335.8px;top:5.2px;width:56px;height:70px;border-radius:3px;background:#d11a22;border:1px solid #e33"></div>
<div class="abs" style="left:337.3px;top:6.3px;width:53px;height:52.6px;border-radius:2px;background:#fff"></div>
<div class="t" style="left:339.3px;top:64.4px;font-size:5.9px;font-weight:bold;color:#fff;letter-spacing:0px">免费门票 即刻领取</div>
</div>
<svg class="abs" style="left:949px;top:591.8px" width="48.8" height="48.8" viewBox="0 0 48.8 48.8"><g fill="#111"><rect x="0.00" y="0.00" width="11.78" height="1.68"/><rect x="16.83" y="0.00" width="5.05" height="1.68"/><rect x="25.24" y="0.00" width="1.68" height="1.68"/><rect x="33.66" y="0.00" width="1.68" height="1.68"/><rect x="37.02" y="0.00" width="11.78" height="1.68"/><rect x="0.00" y="1.68" width="1.68" height="1.68"/><rect x="10.10" y="1.68" width="1.68" height="1.68"/><rect x="18.51" y="1.68" width="6.73" height="1.68"/><rect x="26.92" y="1.68" width="1.68" height="1.68"/><rect x="30.29" y="1.68" width="1.68" height="1.68"/><rect x="37.02" y="1.68" width="1.68" height="1.68"/><rect x="47.12" y="1.68" width="1.68" height="1.68"/><rect x="0.00" y="3.37" width="1.68" height="1.68"/><rect x="3.37" y="3.37" width="5.05" height="1.68"/><rect x="10.10" y="3.37" width="1.68" height="1.68"/><rect x="13.46" y="3.37" width="3.37" height="1.68"/><rect x="18.51" y="3.37" width="1.68" height="1.68"/><rect x="21.88" y="3.37" width="3.37" height="1.68"/><rect x="26.92" y="3.37" width="1.68" height="1.68"/><rect x="30.29" y="3.37" width="5.05" height="1.68"/><rect x="37.02" y="3.37" width="1.68" height="1.68"/><rect x="40.39" y="3.37" width="5.05" height="1.68"/><rect x="47.12" y="3.37" width="1.68" height="1.68"/><rect x="0.00" y="5.05" width="1.68" height="1.68"/><rect x="3.37" y="5.05" width="5.05" height="1.68"/><rect x="10.10" y="5.05" width="1.68" height="1.68"/><rect x="13.46" y="5.05" width="3.37" height="1.68"/><rect x="18.51" y="5.05" width="1.68" height="1.68"/><rect x="21.88" y="5.05" width="3.37" height="1.68"/><rect x="26.92" y="5.05" width="1.68" height="1.68"/><rect x="31.97" y="5.05" width="3.37" height="1.68"/><rect x="37.02" y="5.05" width="1.68" height="1.68"/><rect x="40.39" y="5.05" width="5.05" height="1.68"/><rect x="47.12" y="5.05" width="1.68" height="1.68"/><rect x="0.00" y="6.73" width="1.68" height="1.68"/><rect x="3.37" y="6.73" width="5.05" height="1.68"/><rect x="10.10" y="6.73" width="1.68" height="1.68"/><rect x="13.46" y="6.73" width="1.68" height="1.68"/><rect x="18.51" y="6.73" width="3.37" height="1.68"/><rect x="23.56" y="6.73" width="3.37" height="1.68"/><rect x="31.97" y="6.73" width="1.68" height="1.68"/><rect x="37.02" y="6.73" width="1.68" height="1.68"/><rect x="40.39" y="6.73" width="5.05" height="1.68"/><rect x="47.12" y="6.73" width="1.68" height="1.68"/><rect x="0.00" y="8.41" width="1.68" height="1.68"/><rect x="10.10" y="8.41" width="1.68" height="1.68"/><rect x="13.46" y="8.41" width="3.37" height="1.68"/><rect x="21.88" y="8.41" width="1.68" height="1.68"/><rect x="25.24" y="8.41" width="1.68" height="1.68"/><rect x="28.61" y="8.41" width="1.68" height="1.68"/><rect x="31.97" y="8.41" width="1.68" height="1.68"/><rect x="37.02" y="8.41" width="1.68" height="1.68"/><rect x="47.12" y="8.41" width="1.68" height="1.68"/><rect x="0.00" y="10.10" width="11.78" height="1.68"/><rect x="16.83" y="10.10" width="1.68" height="1.68"/><rect x="25.24" y="10.10" width="1.68" height="1.68"/><rect x="30.29" y="10.10" width="1.68" height="1.68"/><rect x="33.66" y="10.10" width="1.68" height="1.68"/><rect x="37.02" y="10.10" width="11.78" height="1.68"/><rect x="15.14" y="11.78" width="1.68" height="1.68"/><rect x="18.51" y="11.78" width="1.68" height="1.68"/><rect x="21.88" y="11.78" width="3.37" height="1.68"/><rect x="30.29" y="11.78" width="1.68" height="1.68"/><rect x="33.66" y="11.78" width="1.68" height="1.68"/><rect x="0.00" y="13.46" width="6.73" height="1.68"/><rect x="8.41" y="13.46" width="3.37" height="1.68"/><rect x="15.14" y="13.46" width="5.05" height="1.68"/><rect x="21.88" y="13.46" width="1.68" height="1.68"/><rect x="26.92" y="13.46" width="1.68" height="1.68"/><rect x="30.29" y="13.46" width="6.73" height="1.68"/><rect x="38.70" y="13.46" width="5.05" height="1.68"/><rect x="45.43" y="13.46" width="1.68" height="1.68"/><rect x="6.73" y="15.14" width="8.41" height="1.68"/><rect x="16.83" y="15.14" width="5.05" height="1.68"/><rect x="28.61" y="15.14" width="1.68" height="1.68"/><rect x="33.66" y="15.14" width="1.68" height="1.68"/><rect x="38.70" y="15.14" width="3.37" height="1.68"/><rect x="45.43" y="15.14" width="1.68" height="1.68"/><rect x="5.05" y="16.83" width="1.68" height="1.68"/><rect x="8.41" y="16.83" width="1.68" height="1.68"/><rect x="31.97" y="16.83" width="5.05" height="1.68"/><rect x="40.39" y="16.83" width="3.37" height="1.68"/><rect x="45.43" y="16.83" width="1.68" height="1.68"/><rect x="0.00" y="18.51" width="3.37" height="1.68"/><rect x="5.05" y="18.51" width="3.37" height="1.68"/><rect x="35.34" y="18.51" width="3.37" height="1.68"/><rect x="42.07" y="18.51" width="1.68" height="1.68"/><rect x="1.68" y="20.19" width="1.68" height="1.68"/><rect x="8.41" y="20.19" width="1.68" height="1.68"/><rect x="13.46" y="20.19" width="1.68" height="1.68"/><rect x="31.97" y="20.19" width="5.05" height="1.68"/><rect x="40.39" y="20.19" width="5.05" height="1.68"/><rect x="0.00" y="21.88" width="1.68" height="1.68"/><rect x="3.37" y="21.88" width="5.05" height="1.68"/><rect x="10.10" y="21.88" width="3.37" height="1.68"/><rect x="15.14" y="21.88" width="1.68" height="1.68"/><rect x="33.66" y="21.88" width="3.37" height="1.68"/><rect x="47.12" y="21.88" width="1.68" height="1.68"/><rect x="5.05" y="23.56" width="3.37" height="1.68"/><rect x="10.10" y="23.56" width="1.68" height="1.68"/><rect x="15.14" y="23.56" width="1.68" height="1.68"/><rect x="33.66" y="23.56" width="3.37" height="1.68"/><rect x="42.07" y="23.56" width="1.68" height="1.68"/><rect x="1.68" y="25.24" width="6.73" height="1.68"/><rect x="13.46" y="25.24" width="3.37" height="1.68"/><rect x="31.97" y="25.24" width="3.37" height="1.68"/><rect x="37.02" y="25.24" width="1.68" height="1.68"/><rect x="40.39" y="25.24" width="1.68" height="1.68"/><rect x="45.43" y="25.24" width="3.37" height="1.68"/><rect x="1.68" y="26.92" width="5.05" height="1.68"/><rect x="8.41" y="26.92" width="1.68" height="1.68"/><rect x="35.34" y="26.92" width="1.68" height="1.68"/><rect x="45.43" y="26.92" width="1.68" height="1.68"/><rect x="0.00" y="28.61" width="8.41" height="1.68"/><rect x="11.78" y="28.61" width="1.68" height="1.68"/><rect x="33.66" y="28.61" width="1.68" height="1.68"/><rect x="38.70" y="28.61" width="10.10" height="1.68"/><rect x="0.00" y="30.29" width="1.68" height="1.68"/><rect x="15.14" y="30.29" width="1.68" height="1.68"/><rect x="31.97" y="30.29" width="1.68" height="1.68"/><rect x="35.34" y="30.29" width="1.68" height="1.68"/><rect x="40.39" y="30.29" width="3.37" height="1.68"/><rect x="47.12" y="30.29" width="1.68" height="1.68"/><rect x="1.68" y="31.97" width="8.41" height="1.68"/><rect x="11.78" y="31.97" width="1.68" height="1.68"/><rect x="16.83" y="31.97" width="1.68" height="1.68"/><rect x="21.88" y="31.97" width="1.68" height="1.68"/><rect x="25.24" y="31.97" width="3.37" height="1.68"/><rect x="30.29" y="31.97" width="1.68" height="1.68"/><rect x="37.02" y="31.97" width="1.68" height="1.68"/><rect x="43.75" y="31.97" width="1.68" height="1.68"/><rect x="47.12" y="31.97" width="1.68" height="1.68"/><rect x="0.00" y="33.66" width="3.37" height="1.68"/><rect x="5.05" y="33.66" width="3.37" height="1.68"/><rect x="10.10" y="33.66" width="3.37" height="1.68"/><rect x="15.14" y="33.66" width="1.68" height="1.68"/><rect x="25.24" y="33.66" width="3.37" height="1.68"/><rect x="33.66" y="33.66" width="8.41" height="1.68"/><rect x="45.43" y="33.66" width="3.37" height="1.68"/><rect x="13.46" y="35.34" width="1.68" height="1.68"/><rect x="16.83" y="35.34" width="3.37" height="1.68"/><rect x="25.24" y="35.34" width="6.73" height="1.68"/><rect x="33.66" y="35.34" width="1.68" height="1.68"/><rect x="40.39" y="35.34" width="1.68" height="1.68"/><rect x="43.75" y="35.34" width="5.05" height="1.68"/><rect x="0.00" y="37.02" width="11.78" height="1.68"/><rect x="13.46" y="37.02" width="5.05" height="1.68"/><rect x="20.19" y="37.02" width="3.37" height="1.68"/><rect x="25.24" y="37.02" width="1.68" height="1.68"/><rect x="28.61" y="37.02" width="1.68" height="1.68"/><rect x="31.97" y="37.02" width="3.37" height="1.68"/><rect x="37.02" y="37.02" width="1.68" height="1.68"/><rect x="40.39" y="37.02" width="1.68" height="1.68"/><rect x="43.75" y="37.02" width="5.05" height="1.68"/><rect x="0.00" y="38.70" width="1.68" height="1.68"/><rect x="10.10" y="38.70" width="1.68" height="1.68"/><rect x="13.46" y="38.70" width="1.68" height="1.68"/><rect x="16.83" y="38.70" width="5.05" height="1.68"/><rect x="25.24" y="38.70" width="10.10" height="1.68"/><rect x="40.39" y="38.70" width="1.68" height="1.68"/><rect x="45.43" y="38.70" width="1.68" height="1.68"/><rect x="0.00" y="40.39" width="1.68" height="1.68"/><rect x="3.37" y="40.39" width="5.05" height="1.68"/><rect x="10.10" y="40.39" width="1.68" height="1.68"/><rect x="15.14" y="40.39" width="1.68" height="1.68"/><rect x="20.19" y="40.39" width="3.37" height="1.68"/><rect x="26.92" y="40.39" width="1.68" height="1.68"/><rect x="30.29" y="40.39" width="1.68" height="1.68"/><rect x="33.66" y="40.39" width="8.41" height="1.68"/><rect x="43.75" y="40.39" width="3.37" height="1.68"/><rect x="0.00" y="42.07" width="1.68" height="1.68"/><rect x="3.37" y="42.07" width="5.05" height="1.68"/><rect x="10.10" y="42.07" width="1.68" height="1.68"/><rect x="30.29" y="42.07" width="5.05" height="1.68"/><rect x="38.70" y="42.07" width="8.41" height="1.68"/><rect x="0.00" y="43.75" width="1.68" height="1.68"/><rect x="3.37" y="43.75" width="5.05" height="1.68"/><rect x="10.10" y="43.75" width="1.68" height="1.68"/><rect x="16.83" y="43.75" width="8.41" height="1.68"/><rect x="28.61" y="43.75" width="6.73" height="1.68"/><rect x="37.02" y="43.75" width="1.68" height="1.68"/><rect x="42.07" y="43.75" width="3.37" height="1.68"/><rect x="0.00" y="45.43" width="1.68" height="1.68"/><rect x="10.10" y="45.43" width="1.68" height="1.68"/><rect x="13.46" y="45.43" width="1.68" height="1.68"/><rect x="18.51" y="45.43" width="1.68" height="1.68"/><rect x="23.56" y="45.43" width="6.73" height="1.68"/><rect x="35.34" y="45.43" width="6.73" height="1.68"/><rect x="0.00" y="47.12" width="11.78" height="1.68"/><rect x="13.46" y="47.12" width="3.37" height="1.68"/><rect x="18.51" y="47.12" width="5.05" height="1.68"/><rect x="28.61" y="47.12" width="1.68" height="1.68"/><rect x="31.97" y="47.12" width="1.68" height="1.68"/><rect x="35.34" y="47.12" width="1.68" height="1.68"/><rect x="38.70" y="47.12" width="1.68" height="1.68"/><rect x="43.75" y="47.12" width="1.68" height="1.68"/><rect x="47.12" y="47.12" width="1.68" height="1.68"/></g><rect x="17.8" y="17.8" width="13.1" height="13.1" fill="#fff" stroke="#ccc" stroke-width="0.5"/><path d="M24.4 19.0 l3 4.5h-6z M20.9 24.0h7" fill="#222" stroke="#d22" stroke-width="0.6"/></svg>


</div>
</body>
</html>
